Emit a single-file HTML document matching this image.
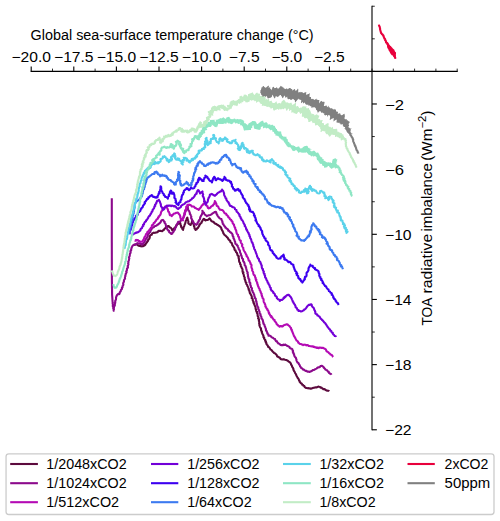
<!DOCTYPE html>
<html><head><meta charset="utf-8"><style>html,body{margin:0;padding:0;background:#fff;overflow:hidden}svg{display:block}</style></head>
<body><svg width="500" height="521" viewBox="0 0 500 521"><rect x="0" y="0" width="500" height="521" fill="#fff"/><g><path d="M134.70,244.55 L135.70,244.45 L136.68,244.55 L137.46,244.64 L137.95,245.35 L138.63,245.68 L139.36,245.90 L140.15,245.81 L140.73,246.28 L141.36,246.39 L142.01,246.10 L142.84,246.33 L143.59,246.09 L143.89,245.10 L144.87,245.14 L145.46,244.54 L145.78,243.77 L146.17,243.05 L146.85,242.52 L147.17,241.75 L147.76,241.15 L148.20,240.45 L148.18,239.62 L148.90,239.15 L149.36,238.54 L149.66,237.87 L149.75,237.10 L149.75,236.20 L150.23,235.58 L150.80,235.04 L151.74,234.80 L151.89,233.91 L152.43,233.34 L153.00,233.08 L153.75,232.67 L154.50,232.83 L155.25,232.76 L155.84,232.54 L156.78,232.40 L157.62,232.11 L158.13,231.24 L159.00,230.81 L159.75,230.94 L160.50,230.68 L161.25,231.00 L162.13,231.18 L162.67,230.64 L163.21,230.12 L163.95,229.85 L164.20,229.05 L164.89,228.63 L165.23,227.95 L165.81,227.44 L166.13,226.54 L167.05,226.79 L167.73,226.13 L168.74,226.01 L169.07,226.82 L169.61,227.35 L170.43,227.51 L171.05,227.97 L171.56,228.72 L171.94,229.53 L172.25,230.46 L172.66,229.76 L173.24,229.26 L173.97,228.98 L174.20,228.25 L174.89,227.81 L175.39,227.25 L175.75,226.63 L176.19,225.79 L176.72,225.03 L177.37,224.36 L177.79,223.67 L178.69,223.62 L179.13,222.96 L179.92,222.56 L180.38,223.30 L180.43,224.19 L180.65,225.02 L181.07,225.77 L181.06,226.69 L181.49,227.45 L182.16,228.12 L182.38,229.01 L183.07,229.90 L183.11,229.00 L183.47,228.23 L183.41,227.29 L183.99,226.60 L184.27,225.79 L184.53,224.98 L184.81,224.18 L185.19,223.42 L185.43,222.61 L185.66,221.80 L185.71,220.93 L186.16,220.19 L186.78,219.50 L186.68,218.58 L187.31,217.71 L187.56,218.45 L187.43,219.31 L187.98,219.96 L188.17,220.72 L188.39,221.47 L188.38,222.29 L188.24,223.15 L188.81,223.79 L189.42,224.18 L190.02,224.56 L190.60,225.00 L190.87,224.19 L191.35,223.46 L191.76,222.70 L191.93,221.85 L192.05,220.98 L192.30,220.23 L192.35,221.03 L193.08,221.63 L193.25,222.40 L193.22,223.22 L193.40,223.99 L193.65,224.73 L193.92,225.47 L193.98,226.27 L194.45,226.92 L194.48,227.71 L194.61,228.46 L195.20,229.07 L195.54,230.01 L196.08,229.53 L196.75,229.23 L196.93,228.44 L197.90,228.00 L198.26,227.20 L198.83,226.52 L199.26,225.81 L199.36,224.91 L200.05,224.47 L200.24,223.64 L200.97,223.24 L201.64,222.76 L201.70,221.76 L202.27,221.10 L202.60,220.28 L203.14,219.60 L203.91,218.83 L204.56,219.16 L204.81,220.09 L205.67,220.46 L206.39,219.98 L207.24,219.97 L208.08,219.71 L208.61,219.21 L209.17,218.76 L209.70,218.45 L210.17,219.22 L210.75,219.93 L211.04,220.72 L211.76,221.28 L212.56,221.68 L213.52,221.84 L213.95,222.51 L214.44,223.11 L215.04,223.56 L215.74,223.89 L216.58,224.01 L217.03,224.66 L217.77,224.92 L218.34,225.32 L219.08,225.85 L219.81,226.37 L220.43,226.87 L220.82,227.54 L221.34,228.14 L221.37,228.95 L221.80,229.60 L222.10,230.30 L222.55,230.93 L222.80,231.70 L223.22,232.39 L223.34,233.23 L223.85,233.87 L224.22,234.57 L224.81,235.04 L225.41,235.49 L225.92,236.06 L226.48,236.50 L226.92,237.13 L227.61,237.56 L227.88,238.33 L228.27,239.00 L228.71,239.59 L229.35,240.21 L230.21,240.67 L230.24,241.69 L230.72,242.41 L231.70,242.85 L231.85,243.63 L232.20,244.32 L232.28,245.13 L232.70,245.78 L233.25,246.36 L233.65,247.02 L234.00,247.68 L234.46,248.36 L234.46,249.30 L234.79,250.06 L235.64,250.50 L235.74,251.39 L236.02,252.14 L236.84,252.60 L236.95,253.42 L237.39,254.08 L237.40,254.95 L237.82,255.62 L238.73,256.13 L238.76,256.94 L238.47,257.80 L238.82,258.54 L239.01,259.31 L238.97,260.13 L239.15,260.90 L239.18,261.71 L239.76,262.40 L240.09,263.08 L239.99,264.03 L240.71,264.64 L240.69,265.55 L240.81,266.40 L241.42,267.06 L241.60,267.89 L242.19,268.56 L242.51,269.33 L242.53,270.22 L242.53,271.02 L242.61,271.80 L243.44,272.41 L243.01,273.32 L243.47,274.01 L243.75,274.75 L243.89,275.52 L243.95,276.32 L244.36,277.05 L244.76,277.80 L244.54,278.74 L244.91,279.50 L245.24,280.26 L245.43,281.07 L245.51,281.92 L246.31,282.52 L246.20,283.46 L246.51,284.24 L247.14,284.89 L247.31,285.73 L247.68,286.48 L248.17,287.19 L248.32,288.03 L248.81,288.73 L248.62,289.70 L249.39,290.30 L249.37,291.17 L249.69,291.93 L249.71,292.79 L250.11,293.52 L250.67,294.19 L250.94,294.96 L251.44,295.65 L251.71,296.42 L251.82,297.25 L251.68,298.18 L252.56,298.73 L252.75,299.53 L252.73,300.41 L253.19,301.12 L253.59,301.84 L253.37,302.80 L254.24,303.35 L254.16,304.25 L254.55,304.98 L254.86,305.73 L255.21,306.46 L255.49,307.22 L255.58,308.03 L255.61,308.87 L256.05,309.57 L256.10,310.41 L256.28,311.19 L257.01,311.80 L256.79,312.72 L257.24,313.41 L257.54,314.21 L257.67,315.05 L257.60,315.94 L258.12,316.68 L258.51,317.46 L258.11,318.42 L258.87,319.12 L259.07,319.95 L258.77,320.78 L259.18,321.48 L259.32,322.23 L259.20,323.02 L259.15,323.80 L259.66,324.48 L259.39,325.30 L259.72,326.03 L260.00,326.82 L260.31,327.61 L260.92,328.29 L261.09,329.12 L261.02,330.04 L261.27,330.84 L261.93,331.51 L261.84,332.43 L262.22,333.19 L262.45,333.97 L262.87,334.67 L263.28,335.38 L263.49,336.16 L263.40,337.07 L264.20,337.62 L264.06,338.54 L264.58,339.21 L265.21,339.85 L265.09,340.83 L265.94,341.38 L265.76,342.38 L266.42,343.01 L266.39,343.95 L266.87,344.69 L267.58,345.24 L267.93,346.05 L268.22,346.90 L269.19,347.27 L269.67,347.98 L270.10,348.70 L270.44,349.56 L271.33,349.87 L271.93,350.47 L272.34,351.26 L272.96,351.84 L273.64,352.36 L274.17,353.03 L275.03,353.37 L275.64,353.96 L276.23,354.57 L276.82,355.18 L277.08,356.15 L277.59,356.76 L278.57,356.80 L279.05,357.44 L279.82,357.74 L280.23,358.46 L280.78,359.11 L281.51,359.21 L282.19,359.52 L282.95,359.40 L283.73,359.17 L284.43,359.52 L285.13,359.81 L285.88,359.97 L286.66,360.01 L287.25,360.64 L288.01,360.79 L288.50,361.50 L289.27,361.93 L290.01,362.39 L290.55,363.13 L290.94,363.82 L291.09,364.62 L291.62,365.25 L292.00,365.94 L292.05,366.79 L292.62,367.38 L293.01,368.05 L293.37,368.74 L293.37,369.62 L293.68,370.33 L294.04,371.02 L294.55,371.62 L294.89,372.39 L295.19,373.18 L295.77,373.83 L296.09,374.60 L296.34,375.42 L296.77,376.14 L297.16,376.88 L297.51,377.65 L297.96,378.31 L298.55,378.90 L298.88,379.63 L299.03,380.46 L299.58,381.07 L299.69,381.92 L300.36,382.44 L300.76,383.13 L301.58,383.40 L302.03,384.03 L302.30,384.85 L303.18,385.06 L303.50,385.83 L304.34,386.08 L304.60,386.91 L305.21,387.37 L305.93,387.87 L306.74,388.02 L307.55,388.19 L308.43,388.09 L309.17,388.51 L310.06,388.37 L310.80,388.79 L311.48,388.49 L312.19,388.31 L312.85,387.95 L313.54,387.68 L314.30,387.65 L315.02,387.51 L315.85,387.30 L316.73,387.43 L317.53,387.02 L318.32,386.60 L319.16,386.79 L319.96,386.94 L320.46,387.67 L321.42,387.52 L322.01,388.07 L322.65,388.56 L323.27,389.10 L324.13,389.13 L324.91,389.35 L325.54,389.92 L326.27,390.23 L326.97,390.63 L327.76,390.82 L328.66,390.75 L329.30,391.30" fill="none" stroke="#5c0a3d" stroke-width="2.1" stroke-linejoin="round" stroke-linecap="butt"/><path d="M111.80,198.30 L111.80,199.10 L111.80,199.90 L111.80,200.71 L111.80,201.51 L111.80,202.31 L111.80,203.11 L111.80,203.91 L111.80,204.72 L111.80,205.52 L111.80,206.32 L111.80,207.12 L111.80,207.92 L111.80,208.73 L111.80,209.53 L111.80,210.33 L111.80,211.13 L111.80,211.93 L111.80,212.73 L111.80,213.54 L111.80,214.34 L111.80,215.14 L111.80,215.94 L111.80,216.74 L111.80,217.55 L111.80,218.35 L111.80,219.15 L111.80,219.95 L111.80,220.75 L111.80,221.56 L111.80,222.36 L111.80,223.16 L111.80,223.96 L111.80,224.76 L111.80,225.57 L111.80,226.37 L111.80,227.17 L111.80,227.97 L111.80,228.77 L111.80,229.57 L111.80,230.38 L111.80,231.18 L111.80,231.98 L111.80,232.78 L111.80,233.58 L111.80,234.39 L111.80,235.19 L111.80,235.99 L111.80,236.79 L111.80,237.59 L111.80,238.40 L111.80,239.20 L111.80,240.00 L111.80,240.80 L111.80,241.60 L111.81,242.40 L111.81,243.20 L111.81,244.00 L111.81,244.80 L111.81,245.60 L111.82,246.40 L111.82,247.20 L111.82,248.00 L111.82,248.80 L111.82,249.60 L111.83,250.40 L111.83,251.20 L111.83,252.00 L111.83,252.80 L111.83,253.60 L111.84,254.40 L111.84,255.20 L111.84,256.00 L111.84,256.80 L111.84,257.60 L111.85,258.40 L111.85,259.20 L111.85,260.00 L111.85,260.80 L111.85,261.60 L111.86,262.40 L111.86,263.20 L111.86,264.00 L111.86,264.80 L111.86,265.60 L111.87,266.40 L111.87,267.20 L111.87,268.00 L111.87,268.80 L111.87,269.60 L111.88,270.40 L111.88,271.20 L111.88,272.00 L111.88,272.80 L111.88,273.60 L111.89,274.40 L111.89,275.20 L111.89,276.00 L111.89,276.80 L111.89,277.60 L111.90,278.40 L111.90,279.20 L111.90,280.00 L111.91,280.81 L111.92,281.62 L111.93,282.43 L111.94,283.24 L111.96,284.06 L111.97,284.87 L111.98,285.68 L111.99,286.49 L112.00,287.30 L112.01,288.11 L112.02,288.92 L112.03,289.73 L112.04,290.54 L112.06,291.36 L112.07,292.17 L112.08,292.98 L112.09,293.79 L112.10,294.60 L112.15,295.37 L112.20,296.13 L112.25,296.90 L112.30,297.67 L112.35,298.43 L112.40,299.20 L112.45,299.97 L112.50,300.73 L112.55,301.50 L112.62,302.27 L112.73,303.03 L112.60,303.81 L113.01,304.54 L112.90,305.33 L112.72,306.14 L113.39,306.83 L113.16,307.64 L113.22,308.41 L113.72,309.13 L113.58,309.92 L113.74,310.72 L113.70,309.93 L114.02,309.19 L113.76,308.36 L113.95,307.60 L114.00,306.82 L114.40,306.10 L114.86,305.35 L114.80,304.49 L115.10,303.71 L115.00,302.84 L115.42,302.09 L115.15,301.18 L115.45,300.40 L115.88,299.65 L116.08,298.84 L116.05,297.98 L116.07,297.22 L116.43,296.59 L116.63,295.89 L116.92,295.23 L117.37,294.80 L118.08,294.10 L119.23,294.14 L119.68,293.42 L119.64,292.39 L120.28,291.78 L120.79,291.10 L120.83,290.17 L121.43,289.48 L122.08,288.81 L121.91,287.79 L122.57,287.12 L122.46,286.24 L122.98,285.54 L123.40,284.81 L123.15,283.90 L123.23,283.07 L123.49,282.30 L124.01,281.59 L123.87,280.72 L124.11,279.95 L124.58,279.24 L125.05,278.54 L124.90,277.68 L125.08,276.89 L125.43,276.16 L125.25,275.29 L125.77,274.59 L125.68,273.74 L126.17,273.05 L126.61,272.35 L126.20,271.42 L126.74,270.74 L126.97,269.99 L126.86,269.14 L127.14,268.39 L127.84,267.75 L128.04,266.96 L127.58,266.01 L128.13,265.24 L128.44,264.42 L128.09,263.50 L128.49,262.70 L128.24,261.79 L128.61,260.99 L128.95,260.17 L129.03,259.31 L129.29,258.48 L128.95,257.56 L129.26,256.73 L129.75,255.96 L129.76,255.13 L129.87,254.32 L130.03,253.53 L130.63,252.85 L130.55,252.00 L130.38,251.10 L131.16,250.44 L131.11,249.52 L131.44,248.73 L131.55,247.86 L131.97,247.08 L132.37,246.36 L132.70,245.60 L133.43,245.19 L133.99,244.63 L134.79,244.89 L135.21,244.23 L136.18,244.19 L136.86,243.74 L137.40,243.10 L138.26,243.48 L139.24,243.40 L140.05,243.96 L140.78,243.98 L141.50,244.09 L142.34,244.72 L142.55,243.93 L143.04,243.39 L143.78,243.10 L144.02,242.35 L144.60,241.80 L144.70,240.96 L145.51,240.54 L145.56,239.67 L145.82,238.96 L146.73,238.58 L146.56,237.66 L147.38,237.24 L147.74,236.59 L147.83,235.80 L147.81,234.93 L148.23,234.26 L148.72,233.63 L149.23,233.01 L149.77,232.41 L150.38,231.85 L150.41,230.95 L150.76,230.12 L151.49,229.52 L151.71,228.61 L152.24,227.76 L153.14,227.55 L153.92,227.15 L154.39,226.31 L155.26,226.05 L156.07,225.72 L156.85,225.31 L157.46,224.63 L158.39,224.48 L158.82,223.66 L159.60,223.29 L160.11,222.72 L160.65,222.17 L160.92,221.40 L161.26,220.56 L161.99,220.08 L162.88,219.91 L163.59,220.47 L163.83,221.35 L164.67,221.89 L164.52,222.82 L165.18,223.43 L165.62,224.12 L165.81,224.91 L165.93,225.71 L166.16,226.46 L166.57,227.13 L167.01,227.79 L167.11,228.59 L167.26,229.38 L167.92,229.81 L168.11,230.58 L169.05,230.81 L168.94,231.83 L169.52,232.38 L170.23,232.82 L170.76,233.41 L171.32,234.02 L172.23,233.62 L172.54,232.64 L173.34,232.10 L173.73,231.32 L174.03,230.48 L174.74,229.86 L175.04,229.16 L174.94,228.29 L175.63,227.76 L175.77,226.99 L176.09,226.30 L176.49,225.64 L176.48,224.74 L177.18,224.19 L177.40,223.40 L178.08,222.84 L178.14,221.82 L179.17,221.91 L180.12,221.51 L180.63,220.86 L181.32,220.38 L181.46,219.38 L182.32,219.05 L182.89,218.45 L183.52,217.84 L183.60,216.98 L183.65,216.10 L183.99,215.33 L184.54,214.62 L184.52,213.73 L184.71,212.90 L185.17,212.17 L185.51,211.39 L185.82,210.61 L185.86,209.73 L186.69,209.25 L186.78,208.39 L187.42,207.81 L187.93,206.89 L187.54,207.82 L188.02,208.46 L188.00,209.27 L188.24,209.99 L188.58,210.68 L189.36,211.30 L189.50,212.16 L189.88,212.93 L189.82,213.87 L190.50,214.52 L190.79,215.34 L191.12,216.09 L191.37,216.86 L191.08,217.81 L191.31,218.59 L191.97,219.23 L191.98,220.08 L192.42,220.79 L192.84,221.56 L193.38,222.25 L193.67,223.10 L194.28,223.63 L195.08,224.05 L195.79,224.61 L196.42,224.89 L196.96,224.28 L197.67,223.75 L197.51,222.73 L197.96,222.06 L198.78,221.60 L198.72,220.67 L199.18,219.96 L199.91,219.36 L200.10,218.52 L200.19,217.63 L200.43,216.82 L200.91,216.11 L201.26,215.37 L201.80,214.65 L202.12,213.88 L202.19,213.05 L202.47,212.27 L202.69,211.47 L202.36,210.72 L202.70,211.45 L203.03,212.19 L203.93,212.63 L204.15,213.42 L204.51,214.06 L204.96,214.71 L205.60,215.10 L206.26,215.46 L206.86,216.23 L207.58,215.73 L208.35,215.40 L209.13,215.26 L209.99,214.98 L210.83,214.67 L211.63,214.24 L212.18,213.77 L212.68,213.22 L213.37,212.94 L214.15,212.49 L214.90,211.99 L215.77,211.81 L216.30,212.41 L216.26,213.26 L216.60,213.94 L217.23,214.50 L217.22,215.33 L217.68,215.92 L218.23,216.57 L218.75,217.25 L219.30,217.95 L219.85,218.42 L220.51,218.74 L221.39,218.93 L221.47,219.81 L221.91,220.56 L222.42,221.28 L222.37,222.21 L222.72,222.99 L222.79,223.94 L223.58,224.45 L223.77,225.37 L224.43,225.97 L225.15,226.52 L225.29,227.51 L226.11,227.89 L226.58,228.62 L227.41,228.99 L228.06,229.58 L228.13,230.64 L229.14,230.89 L229.64,231.59 L230.07,232.18 L230.79,232.37 L231.33,233.08 L231.77,233.20 L232.23,233.95 L232.64,234.71 L232.54,235.62 L233.03,236.37 L233.51,237.11 L233.38,238.05 L233.89,238.77 L234.25,239.54 L234.52,240.36 L234.78,241.17 L235.21,241.92 L235.23,242.83 L235.40,243.76 L236.03,244.21 L236.80,244.55 L236.90,245.43 L237.73,245.72 L237.94,246.51 L238.16,247.18 L238.54,247.93 L238.65,248.77 L239.02,249.52 L239.60,250.20 L239.95,250.96 L240.01,251.81 L240.12,252.65 L240.68,253.33 L240.91,254.16 L240.94,255.06 L241.50,255.76 L241.63,256.62 L241.97,257.41 L242.02,258.31 L242.91,258.88 L243.11,259.72 L243.02,260.67 L243.39,261.44 L244.06,262.10 L244.34,262.91 L244.59,263.73 L244.67,264.61 L244.74,265.41 L245.48,265.92 L245.79,266.62 L245.78,267.45 L246.25,268.08 L246.28,268.90 L246.46,269.57 L246.66,270.32 L246.96,271.04 L247.27,271.77 L247.72,272.46 L247.37,273.32 L247.80,274.02 L247.91,274.78 L247.95,275.56 L247.89,276.39 L248.37,277.08 L248.34,277.92 L248.52,278.70 L249.32,279.30 L249.35,280.12 L249.20,280.99 L249.49,281.74 L249.56,282.55 L250.30,283.17 L250.28,284.01 L250.24,284.86 L250.74,285.56 L250.89,286.37 L250.91,287.21 L251.69,287.82 L252.00,288.58 L251.70,289.52 L252.11,290.24 L252.59,290.92 L252.50,291.86 L253.16,292.50 L253.57,293.24 L253.78,294.06 L254.26,294.77 L254.33,295.64 L254.40,296.52 L254.92,297.21 L254.89,298.09 L255.74,298.69 L255.89,299.49 L256.14,300.26 L256.08,301.13 L256.57,301.83 L256.49,302.70 L256.82,303.45 L257.01,304.24 L257.07,305.07 L257.34,305.84 L257.48,306.64 L258.23,307.26 L258.31,308.09 L258.16,308.98 L258.77,309.65 L259.08,310.40 L259.18,311.22 L259.61,311.92 L259.47,312.89 L259.91,313.63 L260.57,314.30 L260.30,315.31 L260.89,316.01 L261.36,316.74 L261.43,317.63 L261.47,318.44 L262.13,319.04 L262.61,319.70 L262.75,320.48 L263.10,321.18 L263.06,322.03 L263.46,322.72 L263.37,323.59 L264.09,324.21 L264.52,324.95 L264.52,325.85 L265.05,326.55 L265.22,327.38 L265.58,328.15 L265.91,328.91 L265.92,329.76 L266.04,330.57 L266.72,331.13 L266.86,331.93 L267.37,332.56 L267.30,333.45 L267.84,334.07 L268.49,334.65 L268.43,335.66 L269.33,335.64 L270.13,335.86 L270.88,336.17 L271.36,336.99 L272.07,337.40 L272.88,337.68 L273.46,338.27 L274.06,338.84 L275.03,339.01 L275.19,339.89 L275.69,340.49 L276.06,341.20 L277.04,341.40 L277.26,342.23 L277.80,342.80 L278.39,343.48 L279.29,343.68 L279.90,344.33 L280.53,344.95 L281.38,345.10 L282.12,345.09 L282.89,345.23 L283.51,344.52 L284.33,345.05 L285.06,344.48 L285.73,344.93 L286.51,345.19 L287.07,345.87 L287.87,346.06 L288.49,346.53 L289.38,346.69 L289.63,347.60 L290.26,348.07 L290.92,348.50 L291.72,348.75 L292.36,349.34 L292.52,350.19 L293.06,350.90 L292.76,351.91 L293.40,352.58 L293.33,353.51 L294.12,354.13 L294.11,355.04 L294.38,355.86 L294.84,356.58 L295.35,357.28 L295.97,357.92 L296.07,358.81 L296.47,359.57 L296.46,360.43 L296.79,361.12 L297.14,361.80 L297.47,362.49 L298.32,362.92 L298.75,363.57 L298.92,364.32 L299.53,364.89 L299.90,365.62 L300.07,366.47 L300.74,367.01 L300.96,367.86 L301.75,368.20 L302.49,368.60 L302.92,369.47 L303.92,369.48 L304.35,370.36 L305.19,370.62 L305.86,370.94 L306.68,370.83 L307.25,371.46 L307.91,371.79 L308.77,371.57 L309.39,371.98 L310.15,371.75 L310.79,371.28 L311.58,371.11 L312.25,370.69 L312.84,370.13 L313.66,370.01 L314.39,369.72 L314.99,369.18 L315.73,368.91 L316.44,368.58 L317.09,368.14 L317.67,367.54 L318.47,367.39 L319.29,367.27 L319.97,366.89 L320.47,366.13 L321.29,366.04 L321.96,365.74 L322.58,366.32 L323.37,366.73 L323.73,367.57 L324.30,368.20 L324.98,368.72 L325.38,369.52 L326.16,369.94 L327.02,370.19 L327.48,370.88 L327.87,371.64 L328.76,371.86 L328.92,372.86 L329.64,373.27 L330.20,373.85 L331.07,374.09 L331.50,374.80" fill="none" stroke="#8c0a8c" stroke-width="2.1" stroke-linejoin="round" stroke-linecap="butt"/><path d="M134.60,240.60 L135.57,240.78 L136.14,239.80 L136.74,240.36 L137.48,239.97 L138.22,240.23 L138.54,241.19 L139.57,241.14 L140.10,241.91 L141.10,241.77 L142.07,241.78 L142.60,241.12 L142.90,240.30 L143.81,239.93 L143.79,238.98 L144.16,238.34 L144.26,237.60 L144.71,236.99 L145.07,236.35 L145.67,235.87 L145.74,234.99 L145.98,234.21 L146.50,233.62 L147.41,233.27 L147.22,232.19 L148.10,231.78 L148.46,230.98 L149.16,230.44 L149.48,229.60 L150.23,229.08 L150.50,228.35 L151.00,227.76 L151.57,227.22 L151.76,226.43 L151.86,225.60 L152.22,224.90 L153.26,224.66 L153.43,223.79 L153.70,223.01 L154.66,222.71 L154.88,221.89 L155.44,221.32 L156.11,220.74 L156.33,219.77 L156.95,219.14 L157.85,218.76 L157.95,217.76 L158.76,217.32 L158.68,216.38 L159.47,215.93 L159.86,215.26 L160.42,214.67 L160.74,213.87 L160.90,212.98 L161.09,212.11 L161.45,211.33 L162.12,210.71 L162.58,209.98 L162.76,209.06 L163.79,208.70 L164.00,207.80 L164.81,207.21 L165.55,206.24 L166.04,206.72 L166.67,207.05 L167.01,207.75 L167.42,208.44 L167.66,209.22 L168.04,209.93 L168.05,210.79 L168.29,211.57 L169.10,212.13 L169.22,212.95 L169.67,213.65 L169.62,214.60 L170.10,215.30 L171.11,215.31 L171.75,216.15 L171.99,215.39 L172.32,214.72 L173.25,214.65 L173.56,213.88 L174.31,213.45 L175.18,213.35 L175.95,212.89 L176.93,212.78 L177.93,212.57 L178.39,213.16 L178.71,213.84 L179.36,214.34 L179.79,215.05 L180.08,215.82 L180.35,216.59 L180.32,217.47 L180.72,218.19 L180.76,219.20 L181.46,219.40 L181.94,219.94 L182.96,220.33 L182.53,219.34 L182.75,218.59 L183.10,217.88 L183.54,217.20 L183.94,216.50 L184.33,215.81 L184.28,214.97 L184.93,214.33 L184.35,213.41 L185.17,212.81 L184.85,211.95 L185.54,211.32 L185.06,210.42 L185.95,209.83 L185.96,209.05 L186.31,208.34 L186.16,207.53 L186.27,206.61 L187.23,206.14 L187.29,205.16 L187.91,204.68 L188.72,204.88 L189.40,204.60 L190.01,205.03 L190.77,205.28 L191.38,205.71 L191.78,206.46 L192.61,206.56 L193.47,206.51 L194.23,206.96 L194.69,207.59 L195.30,208.04 L196.01,208.33 L196.64,208.72 L197.45,209.10 L198.30,209.40 L198.79,209.88 L199.41,209.23 L199.63,208.34 L200.50,207.84 L200.92,207.12 L201.46,206.46 L201.73,205.53 L202.52,205.12 L203.15,204.57 L203.37,203.68 L204.42,203.29 L204.73,202.46 L205.00,201.60 L205.15,202.36 L205.82,202.91 L206.10,203.61 L206.18,204.41 L206.32,205.18 L206.71,205.87 L207.57,206.16 L207.63,207.05 L207.89,207.80 L208.69,208.37 L209.55,208.11 L210.37,207.74 L210.84,206.84 L211.48,206.28 L212.23,205.83 L213.07,205.47 L213.31,204.55 L214.08,204.04 L214.37,203.29 L214.49,202.45 L214.93,201.76 L214.85,201.12 L215.23,201.79 L215.83,202.39 L215.66,203.25 L216.39,203.80 L216.48,204.54 L216.56,205.42 L217.08,205.97 L217.87,206.31 L218.33,206.90 L218.58,207.65 L218.88,208.36 L219.43,208.89 L219.92,209.74 L220.76,209.78 L221.54,210.05 L222.33,210.05 L222.94,210.53 L223.35,211.17 L223.76,211.80 L224.18,212.42 L224.61,213.19 L225.53,213.47 L226.24,213.96 L226.45,214.92 L227.22,215.29 L227.61,215.96 L228.28,216.41 L228.31,217.36 L229.13,217.68 L229.64,218.25 L229.85,219.10 L230.55,219.50 L231.20,219.95 L231.35,220.84 L232.16,221.17 L232.55,221.85 L232.47,222.77 L232.94,223.40 L233.32,224.09 L234.03,224.61 L233.97,225.49 L234.43,226.23 L234.55,227.09 L235.20,227.76 L235.19,228.68 L235.48,229.48 L236.08,230.17 L236.18,231.04 L236.39,231.88 L236.53,232.74 L236.89,233.52 L237.29,234.28 L238.07,234.90 L238.02,235.83 L238.27,236.67 L239.05,237.15 L239.13,237.99 L239.19,238.83 L239.51,239.55 L239.85,240.25 L240.81,240.69 L240.72,241.63 L240.83,242.50 L241.29,243.24 L241.83,243.95 L242.35,244.67 L241.99,245.72 L242.33,246.50 L242.78,247.24 L243.30,247.96 L243.25,248.89 L243.56,249.69 L243.93,250.46 L244.33,251.23 L244.83,251.94 L245.20,252.63 L245.50,253.35 L245.87,254.04 L246.09,254.81 L246.73,255.36 L246.64,256.28 L247.26,256.85 L247.74,257.48 L248.03,258.21 L248.28,258.96 L248.60,259.68 L248.70,260.50 L249.54,260.96 L249.80,261.70 L250.10,262.43 L250.53,263.08 L250.47,263.99 L251.30,264.52 L251.55,265.31 L251.36,266.21 L251.42,267.05 L251.55,267.86 L251.95,268.61 L252.33,269.37 L252.12,270.31 L252.52,271.04 L253.02,271.74 L253.25,272.53 L253.27,273.41 L253.53,274.20 L253.88,274.95 L254.78,275.50 L254.93,276.35 L255.17,277.17 L255.65,277.91 L255.50,278.87 L256.33,279.48 L256.01,280.51 L256.54,281.22 L256.81,282.03 L257.26,282.78 L257.17,283.72 L257.74,284.42 L257.80,285.31 L258.08,286.12 L258.56,286.85 L258.64,287.74 L259.31,288.40 L259.70,289.16 L259.64,290.10 L260.18,290.81 L260.64,291.55 L260.67,292.45 L261.12,293.19 L261.68,293.90 L261.45,294.89 L262.00,295.60 L261.95,296.53 L262.57,297.21 L262.57,298.10 L263.29,298.73 L263.58,299.49 L263.58,300.34 L263.63,301.17 L263.82,301.96 L264.19,302.70 L264.82,303.36 L264.85,304.20 L265.33,304.83 L265.44,305.65 L265.38,306.56 L266.16,307.05 L266.26,307.87 L266.66,308.54 L267.36,309.07 L267.32,309.97 L268.10,310.45 L268.38,311.19 L268.44,312.03 L269.12,312.57 L268.89,313.61 L269.72,314.07 L270.05,314.86 L270.29,315.71 L271.33,316.03 L271.20,317.12 L272.26,317.33 L272.57,318.26 L273.16,318.89 L273.61,319.68 L274.60,319.95 L274.53,320.86 L275.09,321.45 L275.57,322.09 L276.14,322.68 L276.44,323.41 L276.67,324.12 L277.28,324.58 L277.86,325.08 L278.25,325.83 L279.06,326.04 L279.62,326.70 L280.26,326.12 L280.99,326.08 L281.79,326.41 L282.53,326.43 L283.13,325.87 L283.75,325.31 L284.54,325.09 L285.31,324.82 L286.03,324.46 L286.77,324.24 L287.63,324.51 L288.24,325.20 L288.93,325.75 L289.60,326.10 L289.99,326.81 L290.46,327.47 L291.05,328.07 L291.00,329.00 L291.76,329.54 L291.63,330.50 L292.24,331.19 L292.40,332.04 L292.80,332.80 L292.98,333.64 L293.51,334.34 L293.69,335.11 L293.92,335.86 L294.53,336.41 L294.70,337.18 L295.15,337.81 L295.48,338.50 L295.87,339.14 L296.29,339.91 L296.70,340.67 L297.56,341.09 L298.09,341.76 L298.18,342.77 L299.02,342.99 L299.51,343.80 L300.22,344.05 L301.08,343.93 L301.66,344.52 L302.42,344.50 L303.16,345.10 L304.03,344.66 L304.84,344.69 L305.65,344.73 L306.38,345.37 L307.23,345.07 L308.04,345.26 L308.71,345.97 L309.55,345.98 L310.35,346.18 L311.19,346.26 L311.97,346.51 L312.89,346.22 L313.54,347.04 L314.47,346.89 L315.21,347.51 L316.14,347.39 L316.88,348.00 L317.77,347.50 L318.63,348.23 L319.38,347.46 L320.20,347.74 L321.00,347.66 L321.83,348.00 L322.61,347.73 L323.13,347.77 L323.77,348.33 L324.64,348.66 L325.40,349.10 L326.00,349.70 L326.28,350.62 L326.74,351.36 L327.51,351.80 L328.24,352.13 L328.67,352.80 L329.19,353.35 L329.97,353.64 L330.29,354.41 L331.12,354.64 L331.78,355.06 L332.32,355.60 L332.65,356.37 L333.20,356.90" fill="none" stroke="#b40ab4" stroke-width="2.1" stroke-linejoin="round" stroke-linecap="butt"/><path d="M132.30,235.00 L132.70,234.40 L133.45,234.21 L133.91,233.46 L134.75,233.46 L135.38,232.99 L136.00,232.62 L136.73,232.84 L137.23,232.37 L138.04,232.32 L138.58,231.73 L139.12,231.53 L139.75,231.01 L140.42,230.52 L140.34,229.56 L140.81,228.95 L141.49,228.45 L142.11,227.90 L142.25,227.07 L142.53,226.32 L143.33,225.87 L143.09,224.81 L144.04,224.52 L144.06,223.64 L144.36,222.95 L144.74,222.30 L145.27,221.75 L146.00,221.35 L146.06,220.42 L146.79,219.97 L147.29,219.37 L147.58,218.61 L148.16,218.06 L148.30,217.21 L148.70,216.58 L149.20,216.01 L149.92,215.58 L150.15,214.84 L150.47,214.15 L151.06,213.63 L151.31,212.90 L151.54,212.16 L152.24,211.65 L152.51,210.93 L152.53,210.08 L153.11,209.51 L153.42,208.81 L154.05,208.15 L154.33,207.32 L154.39,206.39 L155.27,205.85 L155.03,204.76 L155.64,204.11 L156.28,203.48 L156.25,202.49 L156.89,201.86 L157.06,200.82 L157.92,200.73 L158.51,200.33 L158.85,199.73 L159.03,200.63 L159.83,201.23 L159.95,202.15 L160.28,202.92 L160.54,203.72 L160.88,204.49 L160.84,205.38 L161.01,206.21 L161.62,206.89 L161.83,207.66 L162.61,208.14 L162.51,209.07 L163.08,209.78 L163.91,209.35 L164.45,208.62 L164.78,207.68 L165.50,207.10 L166.33,206.63 L166.90,205.52 L167.83,205.87 L168.77,205.63 L169.70,205.59 L170.42,205.55 L171.15,206.11 L171.88,205.60 L172.64,205.70 L173.34,205.96 L173.99,206.49 L174.84,206.02 L175.53,206.47 L176.05,207.03 L176.46,207.73 L177.07,208.19 L177.63,208.72 L178.27,208.87 L178.91,208.39 L179.44,207.80 L180.30,207.54 L180.90,207.02 L181.03,205.98 L181.74,205.47 L182.47,204.98 L183.17,204.45 L183.99,204.09 L184.74,203.63 L185.29,202.90 L185.86,202.21 L186.77,201.94 L187.45,201.56 L188.22,201.35 L189.06,201.27 L189.69,200.72 L190.31,200.08 L191.06,199.63 L191.78,199.14 L192.11,198.29 L193.18,197.99 L193.63,197.23 L194.21,196.58 L194.67,195.87 L194.96,195.11 L195.49,194.59 L195.85,193.90 L196.70,193.64 L196.55,192.77 L196.84,192.07 L197.22,191.41 L197.47,190.70 L198.11,190.03 L198.73,190.62 L199.18,191.29 L199.50,192.06 L199.95,192.74 L200.02,193.52 L200.36,192.81 L201.36,192.76 L201.74,192.09 L202.47,191.44 L202.56,192.21 L202.64,192.98 L202.79,193.74 L203.14,194.45 L202.73,195.33 L202.78,196.11 L203.36,196.77 L203.50,197.53 L203.98,198.22 L204.13,198.97 L204.10,199.77 L204.32,200.51 L204.06,201.40 L204.83,201.90 L205.21,202.56 L204.81,203.53 L205.40,204.11 L205.45,204.67 L206.08,204.12 L206.06,203.23 L206.77,202.71 L207.44,202.17 L207.71,201.43 L207.95,200.66 L207.92,199.73 L208.30,198.96 L208.45,198.11 L209.20,197.48 L209.32,196.61 L209.81,195.88 L209.82,194.89 L210.48,194.35 L211.44,194.27 L211.77,193.91 L212.53,194.35 L213.25,194.85 L213.95,195.38 L214.92,195.85 L215.37,195.00 L216.21,194.66 L216.83,194.03 L217.37,193.30 L218.07,192.77 L218.89,192.41 L219.58,191.87 L220.51,191.61 L221.18,191.23 L221.42,190.42 L222.22,190.17 L222.13,189.52 L222.39,190.22 L223.07,190.77 L223.41,191.43 L223.64,192.13 L223.90,192.82 L224.12,193.51 L224.11,194.34 L224.21,195.13 L224.55,195.81 L225.12,196.39 L225.29,197.15 L225.48,197.89 L226.28,198.33 L226.31,199.27 L226.56,200.07 L227.07,200.72 L227.51,201.40 L228.12,201.99 L228.74,202.57 L228.74,203.52 L229.47,204.03 L229.57,204.92 L230.02,205.83 L230.94,205.80 L231.64,206.18 L232.13,206.94 L232.88,207.13 L233.74,207.30 L234.32,207.78 L234.87,208.29 L235.02,209.24 L235.59,209.63 L236.47,210.01 L236.45,210.98 L236.78,211.71 L237.43,212.24 L238.07,212.77 L238.37,213.52 L239.07,214.05 L239.57,214.70 L239.34,215.79 L239.98,216.36 L240.48,217.01 L240.54,217.86 L241.25,218.38 L241.28,219.23 L241.67,219.92 L242.46,220.40 L242.78,221.11 L243.10,221.83 L243.49,222.51 L243.59,223.33 L244.17,223.91 L244.41,224.67 L244.96,225.27 L244.76,226.25 L245.50,226.75 L245.78,227.49 L246.04,228.23 L246.16,229.04 L246.86,229.57 L246.79,230.43 L247.40,231.00 L247.68,231.71 L247.98,232.41 L248.65,232.95 L248.64,233.78 L249.13,234.40 L249.56,235.04 L249.28,235.99 L250.04,236.50 L250.12,237.29 L250.23,238.07 L250.66,238.72 L251.13,239.35 L251.29,240.21 L251.56,241.02 L251.69,241.88 L252.50,242.49 L252.45,243.42 L252.99,244.13 L253.27,244.94 L253.20,245.88 L253.69,246.60 L253.95,247.42 L254.11,248.27 L254.29,249.12 L254.94,249.78 L255.12,250.63 L255.50,251.40 L255.79,252.20 L255.96,253.05 L256.44,253.79 L256.68,254.61 L257.02,255.39 L256.98,256.36 L257.51,256.97 L257.73,257.73 L258.03,258.46 L258.87,258.91 L259.01,259.72 L259.07,260.52 L259.45,261.30 L260.27,261.90 L260.58,262.69 L260.64,263.58 L261.22,264.28 L261.39,265.13 L261.82,265.88 L261.67,266.85 L261.89,267.68 L262.10,268.51 L262.96,269.10 L262.84,270.06 L263.18,270.85 L263.87,271.51 L263.56,272.44 L263.76,273.21 L264.58,273.76 L264.28,274.70 L264.95,275.30 L265.14,276.07 L265.01,276.94 L265.38,277.65 L266.15,278.22 L266.20,279.04 L266.39,279.81 L266.87,280.44 L267.32,281.09 L267.58,281.84 L267.64,282.68 L268.49,283.13 L268.46,284.02 L268.89,284.68 L269.54,285.23 L269.67,286.04 L269.81,286.84 L270.24,287.50 L270.91,288.04 L270.60,289.07 L271.09,289.70 L271.31,290.47 L272.25,290.80 L272.61,291.47 L273.22,291.94 L273.23,292.89 L274.01,293.22 L274.56,293.73 L274.85,294.47 L274.99,295.38 L275.52,296.04 L276.36,296.49 L276.90,297.14 L276.85,298.19 L277.56,298.74 L278.01,299.34 L278.88,299.52 L279.43,300.02 L279.77,300.93 L280.37,300.40 L280.95,299.79 L281.96,300.06 L282.58,299.48 L283.23,299.01 L283.38,298.04 L284.38,297.92 L284.49,296.91 L285.47,296.83 L285.98,296.05 L286.62,295.45 L287.43,295.06 L287.86,294.74 L288.76,294.89 L289.36,295.34 L289.66,296.09 L290.38,296.50 L290.86,297.15 L291.20,297.87 L291.67,298.53 L291.94,299.29 L292.25,300.03 L292.64,300.73 L292.66,301.59 L293.35,302.12 L293.55,302.90 L294.13,303.48 L294.36,304.25 L294.94,304.83 L295.13,305.61 L295.61,306.17 L295.61,307.13 L296.18,307.65 L296.87,308.09 L297.14,308.85 L297.31,309.68 L298.30,309.90 L298.45,310.95 L299.36,310.82 L300.20,311.05 L301.00,311.49 L301.85,311.33 L302.49,310.94 L303.16,310.58 L303.89,310.30 L304.15,309.44 L304.98,309.27 L305.52,308.72 L306.06,308.09 L306.51,307.38 L307.06,306.76 L307.48,306.01 L308.11,305.47 L308.79,304.77 L309.66,305.05 L310.24,304.45 L311.22,304.24 L311.79,304.90 L311.83,305.96 L312.34,306.68 L312.98,307.26 L313.57,307.83 L313.91,308.52 L314.18,309.23 L314.37,309.99 L314.91,310.59 L315.01,311.38 L315.45,312.02 L315.25,312.95 L315.63,313.77 L316.46,314.11 L317.21,314.52 L317.39,315.51 L318.34,315.73 L318.90,316.34 L319.70,316.74 L320.00,317.55 L320.47,318.21 L320.97,318.84 L321.68,319.29 L322.02,320.06 L322.85,320.42 L323.22,321.16 L323.85,321.69 L324.19,322.46 L324.93,322.89 L325.47,323.49 L325.82,324.25 L326.39,324.82 L326.70,325.62 L327.26,326.20 L327.64,326.92 L328.17,327.50 L328.60,328.15 L328.96,328.85 L329.74,329.24 L330.24,329.83 L330.29,330.77 L331.29,330.99 L331.39,331.89 L331.91,332.48 L332.78,332.74 L332.80,333.73 L333.26,334.33 L333.92,334.77 L334.36,335.40 L334.81,336.01 L335.72,336.24 L336.00,337.00" fill="none" stroke="#7200d8" stroke-width="2.1" stroke-linejoin="round" stroke-linecap="butt"/><path d="M129.38,234.19 L129.67,233.40 L129.62,232.50 L129.67,231.62 L129.69,230.74 L130.59,230.15 L130.67,229.29 L131.18,228.56 L131.04,227.64 L131.66,226.94 L131.41,225.99 L132.16,225.33 L132.32,224.50 L132.25,223.60 L132.60,222.82 L132.96,222.09 L132.93,221.11 L133.65,220.53 L134.27,219.89 L134.19,218.89 L135.07,218.39 L135.35,217.61 L135.93,217.11 L135.99,216.20 L136.26,215.45 L137.28,215.28 L137.75,214.67 L137.87,213.84 L137.99,213.01 L138.50,212.43 L139.28,212.04 L139.41,211.22 L140.39,210.93 L140.49,210.06 L140.57,209.17 L141.38,208.72 L141.54,207.88 L142.44,207.50 L142.84,206.80 L142.91,205.91 L143.44,205.29 L143.90,204.63 L144.40,204.00 L144.96,203.40 L144.57,202.23 L145.27,201.71 L145.88,201.16 L146.12,200.41 L146.80,200.02 L146.88,199.14 L147.96,199.07 L148.15,198.28 L148.36,197.40 L149.28,197.35 L149.64,196.60 L150.15,196.03 L150.91,195.77 L151.71,195.00 L152.39,195.56 L152.74,196.60 L153.56,196.96 L154.48,196.82 L155.15,197.71 L156.08,197.09 L156.66,197.62 L157.53,197.24 L157.66,196.44 L157.77,195.62 L158.21,195.00 L158.60,194.36 L158.63,193.49 L159.73,193.01 L159.12,191.91 L159.75,191.25 L160.34,190.55 L160.16,189.62 L160.89,188.87 L160.33,187.87 L161.21,187.15 L160.51,186.26 L160.87,187.09 L160.80,187.98 L161.37,188.77 L161.13,189.69 L161.33,190.63 L161.96,191.29 L162.39,192.05 L162.56,192.93 L163.20,193.58 L163.82,194.14 L163.79,195.14 L164.64,195.41 L164.95,196.13 L165.20,196.90 L166.09,197.04 L166.82,197.38 L167.39,197.93 L167.89,198.73 L167.90,197.94 L168.03,197.19 L168.45,196.53 L169.14,195.97 L168.73,195.04 L169.12,194.37 L169.85,193.76 L169.90,192.88 L169.88,191.98 L170.38,191.27 L170.72,190.49 L171.31,191.04 L171.37,191.81 L171.72,192.47 L171.54,193.34 L171.98,193.77 L172.71,193.55 L173.42,193.31 L173.19,192.60 L173.90,193.23 L173.86,194.04 L174.32,194.74 L174.42,195.52 L174.51,196.30 L174.38,197.11 L174.41,197.88 L175.20,198.49 L175.65,199.17 L175.38,200.01 L175.93,200.67 L176.13,201.41 L175.57,202.32 L176.27,202.73 L176.48,203.79 L177.36,204.17 L178.25,205.16 L178.71,204.41 L178.60,203.24 L179.23,202.62 L180.42,202.25 L180.40,201.35 L180.50,200.50 L181.13,199.83 L181.45,199.05 L181.44,198.15 L181.70,197.36 L181.65,196.44 L182.18,195.74 L182.27,194.86 L183.02,194.35 L183.30,193.64 L183.17,192.76 L183.92,192.25 L183.73,191.34 L184.04,190.64 L184.80,190.20 L185.20,189.55 L186.03,189.33 L186.37,188.62 L186.66,188.14 L187.59,188.26 L187.61,189.29 L188.67,189.28 L188.99,190.17 L189.75,189.65 L190.28,188.94 L190.79,188.24 L191.03,187.26 L191.59,187.93 L192.24,188.48 L192.81,188.48 L193.98,188.27 L194.48,187.55 L194.63,186.56 L195.44,186.04 L195.55,185.17 L195.81,184.39 L196.58,183.91 L196.42,182.88 L197.46,182.55 L198.02,181.94 L197.80,180.92 L198.69,180.46 L198.17,179.45 L199.17,179.03 L198.92,178.12 L199.03,177.78 L199.98,178.16 L200.11,179.15 L201.35,179.32 L201.63,179.91 L202.10,180.83 L202.86,180.90 L203.63,181.01 L203.46,180.04 L203.89,179.29 L204.38,178.55 L204.38,177.64 L205.56,177.17 L205.65,176.29 L205.34,175.67 L206.06,176.22 L206.88,176.71 L207.61,177.25 L207.61,178.34 L208.63,178.67 L208.81,179.63 L209.40,180.28 L209.90,181.00 L210.84,181.11 L211.54,181.58 L212.02,182.41 L211.86,181.44 L212.62,180.81 L212.57,179.88 L213.00,179.12 L213.17,178.28 L213.86,177.62 L214.20,176.74 L214.76,177.36 L215.18,178.06 L215.31,178.93 L215.43,179.81 L216.14,180.24 L216.49,179.54 L217.12,179.12 L217.59,178.54 L218.26,178.26 L218.84,178.90 L219.66,179.19 L220.57,179.34 L221.20,179.92 L221.87,180.43 L222.45,180.97 L222.76,180.25 L223.64,179.82 L223.60,178.92 L224.04,178.27 L224.44,177.60 L224.48,176.87 L224.76,177.66 L225.55,178.13 L225.72,178.99 L225.87,179.84 L226.81,179.98 L227.36,180.65 L228.14,180.66 L229.00,180.61 L229.65,180.93 L229.95,181.90 L231.07,181.88 L230.73,182.80 L231.55,183.35 L231.53,184.16 L232.08,184.79 L231.83,185.68 L231.86,186.56 L232.79,186.95 L232.98,187.84 L233.15,188.73 L234.14,189.09 L234.46,189.88 L235.00,190.80 L235.76,190.58 L236.15,189.60 L237.07,189.69 L237.93,188.90 L238.63,189.41 L238.81,190.64 L240.07,190.42 L240.11,191.47 L240.57,192.10 L240.94,192.77 L241.19,193.49 L241.56,194.16 L242.20,194.72 L242.35,195.48 L242.86,196.05 L242.69,197.08 L243.16,197.74 L243.55,198.44 L244.45,198.86 L244.52,199.75 L245.21,200.28 L245.17,201.27 L245.73,201.95 L246.05,202.80 L246.81,203.32 L247.33,203.97 L247.52,204.71 L248.44,205.17 L248.25,206.06 L249.05,206.57 L249.02,207.40 L249.54,208.02 L249.04,209.03 L250.18,209.41 L249.63,210.44 L250.11,211.40 L251.03,211.28 L251.56,211.97 L252.80,211.79 L253.07,212.50 L253.53,213.11 L253.83,213.80 L254.24,214.44 L253.86,215.49 L254.89,215.87 L254.65,216.74 L255.18,217.36 L255.55,218.04 L255.51,218.84 L255.97,219.48 L255.47,220.51 L256.35,220.98 L256.52,221.81 L256.89,222.53 L257.19,223.29 L257.67,223.96 L258.18,224.56 L258.75,225.06 L258.63,226.11 L259.64,226.26 L259.91,227.00 L260.09,227.81 L260.73,228.22 L260.64,229.13 L261.03,229.87 L261.57,230.57 L262.21,231.23 L262.02,232.17 L262.40,232.92 L262.29,233.83 L262.87,234.52 L263.13,235.30 L263.43,236.05 L264.13,236.59 L264.20,237.47 L264.55,238.20 L265.60,238.53 L265.34,239.62 L265.80,240.29 L266.24,240.98 L267.10,241.42 L267.59,242.07 L268.14,242.77 L268.22,243.65 L268.07,244.62 L268.83,245.25 L269.46,245.93 L269.48,246.83 L269.99,247.55 L269.80,248.57 L270.21,249.36 L270.61,250.16 L271.80,250.35 L272.09,251.23 L272.76,251.65 L272.61,252.72 L273.14,253.26 L273.85,253.65 L273.98,254.50 L274.78,254.81 L275.05,255.56 L275.74,255.96 L276.31,256.47 L276.28,257.44 L276.87,257.93 L277.60,258.39 L278.53,258.67 L279.47,258.45 L280.63,258.49 L280.53,257.45 L281.05,256.90 L281.49,256.31 L282.35,256.03 L282.90,255.52 L283.53,254.69 L283.43,255.50 L284.03,256.08 L283.72,256.96 L283.87,257.69 L284.76,258.17 L284.31,259.38 L285.20,259.66 L286.23,259.75 L286.79,260.46 L287.55,260.79 L288.00,261.65 L288.61,262.17 L289.65,261.86 L290.39,262.25 L290.77,263.10 L291.28,263.78 L292.00,264.19 L292.84,264.48 L293.47,265.07 L293.32,265.99 L293.77,266.65 L293.77,267.51 L294.29,268.14 L294.45,268.93 L294.55,269.74 L295.17,270.33 L295.22,271.16 L296.12,271.67 L296.68,272.32 L296.18,273.41 L297.28,273.84 L296.70,274.97 L297.51,275.52 L298.18,276.12 L298.30,276.96 L298.24,277.96 L299.01,278.24 L299.36,278.94 L300.26,279.09 L300.22,280.09 L301.05,280.48 L301.13,281.39 L302.14,281.65 L302.42,282.61 L302.84,281.85 L303.36,281.17 L303.56,280.42 L304.33,279.88 L304.91,279.27 L304.53,278.26 L305.15,277.67 L305.05,276.77 L306.26,276.42 L306.54,275.66 L306.53,274.82 L306.61,274.02 L306.48,273.14 L306.79,272.42 L307.61,271.88 L307.95,271.17 L308.40,270.50 L308.53,269.74 L308.44,268.88 L308.58,268.10 L309.14,267.52 L309.26,266.74 L309.74,266.12 L310.35,265.55 L310.33,264.66 L310.73,265.57 L311.58,265.82 L312.72,265.78 L312.79,266.83 L313.41,267.33 L313.99,267.87 L314.99,267.99 L314.94,269.18 L315.76,269.42 L316.29,269.97 L317.10,270.22 L317.76,270.64 L318.45,271.33 L318.55,272.12 L318.74,272.87 L319.16,273.54 L319.52,274.23 L319.18,275.19 L319.48,275.91 L319.59,276.69 L320.49,277.18 L320.30,278.10 L320.76,278.72 L321.55,279.17 L321.20,280.20 L322.01,280.65 L322.50,281.25 L322.85,281.92 L322.53,282.94 L323.50,283.30 L323.69,284.02 L324.09,284.74 L324.76,285.23 L325.06,286.04 L326.01,286.28 L326.28,287.12 L326.69,287.83 L327.18,288.46 L327.72,289.07 L328.48,289.45 L328.69,290.29 L328.94,291.10 L329.81,291.39 L330.19,292.09 L330.54,292.82 L331.52,293.08 L331.89,293.79 L331.67,294.83 L332.64,295.20 L332.92,295.96 L333.36,296.64 L333.20,297.64 L333.98,298.12 L334.06,298.99 L335.08,299.31 L335.42,300.00 L335.54,300.83 L336.25,301.26 L336.40,302.08 L336.96,302.62 L337.75,302.99 L338.15,303.63 L338.32,304.44 L338.70,305.10" fill="none" stroke="#3c00f0" stroke-width="2.1" stroke-linejoin="round" stroke-linecap="butt"/><path d="M128.67,234.12 L128.94,233.40 L129.17,232.67 L129.46,231.95 L129.54,231.18 L129.85,230.46 L129.50,229.63 L129.94,228.99 L130.39,228.37 L130.40,227.62 L130.72,226.96 L130.44,226.14 L130.83,225.50 L130.87,224.76 L131.23,224.11 L131.39,223.44 L131.21,222.69 L131.47,222.05 L131.65,221.38 L132.17,220.79 L132.23,220.10 L132.02,219.35 L132.54,218.76 L132.30,218.00 L132.72,217.39 L132.58,216.66 L132.63,215.98 L133.27,215.42 L133.00,214.68 L133.13,214.02 L133.71,213.44 L133.77,212.77 L133.55,212.04 L134.07,211.44 L133.92,210.73 L134.11,210.07 L133.92,209.36 L134.46,208.75 L134.41,208.05 L134.68,207.40 L134.73,206.73 L134.48,206.00 L134.62,205.33 L134.60,204.64 L134.72,203.89 L135.08,203.21 L135.60,202.64 L136.15,202.08 L136.34,201.15 L137.21,201.09 L137.75,200.52 L138.39,200.10 L139.25,199.91 L139.51,199.23 L139.84,198.60 L140.34,198.09 L140.87,197.61 L140.97,196.81 L141.87,196.48 L141.53,195.65 L142.14,195.11 L142.40,194.46 L142.12,193.65 L142.77,193.12 L142.72,192.38 L143.05,191.75 L142.92,190.98 L143.14,190.32 L143.42,189.68 L144.06,189.15 L143.83,188.35 L144.35,187.78 L144.65,187.14 L144.85,186.48 L144.71,185.71 L144.92,185.04 L145.21,184.40 L145.57,183.74 L145.36,182.91 L145.96,182.31 L146.19,181.61 L146.44,180.91 L146.08,180.04 L146.91,179.51 L146.51,178.63 L146.93,177.90 L147.60,177.67 L148.31,177.49 L148.57,176.68 L149.38,176.76 L149.82,176.14 L150.31,175.63 L150.91,175.32 L151.38,174.91 L151.90,174.35 L152.54,173.96 L153.54,174.04 L154.39,173.92 L154.32,172.58 L154.82,171.99 L156.21,172.60 L156.36,171.63 L156.96,172.12 L157.59,172.58 L157.64,173.48 L157.88,174.32 L158.69,174.41 L159.18,174.82 L159.99,174.91 L160.14,176.37 L160.44,175.02 L161.20,175.49 L161.91,175.81 L162.40,174.68 L163.20,175.52 L164.00,175.83 L164.67,175.33 L164.96,175.94 L166.09,175.71 L166.21,176.49 L166.95,176.65 L166.71,177.79 L167.70,177.70 L168.00,178.30 L168.12,179.44 L169.00,179.60 L169.52,179.96 L170.51,179.94 L170.95,180.46 L171.17,181.17 L171.89,181.41 L172.54,181.71 L172.88,182.29 L173.66,182.42 L174.02,183.10 L174.07,184.21 L174.65,184.59 L175.77,184.56 L175.83,183.80 L175.85,183.03 L175.75,182.22 L176.23,181.60 L177.14,181.12 L177.49,180.46 L177.05,179.54 L177.85,179.03 L178.08,178.26 L178.08,177.54 L178.15,176.84 L178.39,176.16 L177.96,175.37 L178.54,174.74 L178.06,173.95 L178.46,173.30 L178.96,172.66 L178.44,171.94 L179.09,172.56 L178.28,173.39 L178.79,174.03 L178.99,174.72 L179.88,175.30 L179.23,176.11 L179.75,176.75 L179.26,177.53 L179.65,178.19 L179.26,178.96 L179.60,179.65 L179.57,180.40 L180.36,180.95 L180.13,181.75 L180.18,182.48 L180.23,183.21 L181.05,183.75 L180.56,184.62 L181.36,185.69 L181.98,185.22 L182.81,185.37 L183.50,185.11 L184.01,184.29 L184.71,184.07 L185.01,183.54 L186.14,183.54 L186.61,183.09 L186.42,182.21 L186.57,181.84 L186.89,182.44 L187.22,183.03 L188.24,183.21 L187.86,184.24 L188.45,184.67 L188.90,185.43 L189.60,185.09 L190.30,185.37 L191.36,185.34 L191.41,184.65 L191.76,184.06 L191.08,183.10 L191.49,182.54 L192.09,182.06 L192.60,181.54 L192.27,180.71 L193.11,180.31 L193.28,179.64 L192.65,178.74 L193.41,178.19 L193.25,177.41 L193.19,176.65 L193.48,175.98 L193.90,175.34 L193.89,174.59 L194.08,173.90 L194.04,173.14 L194.80,172.59 L194.86,171.86 L195.35,171.24 L195.50,170.53 L195.19,169.71 L196.27,169.24 L195.27,168.09 L196.08,167.74 L196.22,167.06 L196.69,166.54 L196.62,165.76 L197.81,165.61 L197.54,164.72 L197.46,163.84 L198.55,163.65 L198.37,162.61 L199.31,162.31 L199.49,161.52 L200.02,161.08 L200.16,161.99 L200.83,162.41 L201.76,162.57 L201.86,163.48 L202.47,163.85 L203.18,164.13 L203.85,164.45 L203.78,165.36 L204.34,165.88 L205.25,166.09 L205.96,165.80 L206.46,165.04 L207.03,164.40 L207.99,164.87 L208.27,163.44 L209.02,163.33 L209.95,163.67 L210.52,163.36 L210.66,162.44 L211.58,162.62 L211.78,162.60 L212.77,162.24 L213.44,162.61 L214.10,162.62 L214.80,162.71 L215.50,163.66 L216.18,162.83 L216.96,163.58 L217.65,163.44 L218.41,162.88 L218.44,162.03 L219.67,162.05 L219.54,161.08 L219.86,160.44 L220.17,159.79 L221.33,159.77 L221.19,158.79 L221.47,158.11 L222.14,157.82 L222.27,156.99 L223.24,157.00 L223.54,156.34 L223.93,155.66 L224.95,155.61 L224.88,155.12 L226.16,154.80 L226.13,155.79 L226.86,156.02 L226.69,157.15 L227.29,157.45 L228.36,157.58 L228.81,158.20 L229.42,158.70 L228.99,160.03 L230.27,160.08 L230.16,160.95 L230.63,161.56 L230.71,162.34 L231.07,163.00 L231.19,163.77 L232.29,164.10 L232.22,165.34 L232.71,164.49 L233.52,164.54 L234.12,164.03 L235.14,163.84 L235.27,164.62 L235.74,165.17 L236.26,165.69 L236.21,166.59 L236.79,167.07 L237.84,167.24 L237.59,167.87 L238.38,167.91 L239.28,168.29 L239.33,167.77 L240.09,168.14 L241.09,168.39 L240.51,169.53 L241.29,169.90 L241.46,170.62 L241.65,171.32 L242.09,171.88 L242.59,172.38 L243.51,172.66 L243.94,171.69 L244.64,171.42 L245.58,171.74 L246.43,170.73 L246.79,171.41 L246.67,172.46 L247.97,172.37 L247.60,173.63 L248.22,174.09 L248.98,174.45 L249.51,174.93 L249.26,175.87 L249.46,176.55 L250.73,176.58 L250.68,177.40 L250.94,178.04 L251.35,178.58 L251.90,179.04 L252.47,179.50 L252.30,180.40 L252.38,181.14 L253.60,181.16 L253.81,181.89 L253.53,182.95 L253.96,183.53 L254.51,184.03 L255.65,184.13 L255.24,185.27 L255.35,186.09 L255.72,186.65 L256.45,186.95 L257.58,186.97 L257.07,188.16 L258.16,188.19 L258.07,189.09 L258.11,189.88 L258.77,190.23 L259.79,190.27 L260.06,190.94 L259.83,192.02 L261.09,191.86 L261.03,192.80 L261.68,193.15 L262.39,193.45 L262.33,194.38 L263.43,194.45 L263.76,195.10 L263.84,195.91 L264.60,196.27 L265.02,196.86 L264.81,197.86 L265.02,198.59 L265.27,199.31 L266.51,199.25 L266.56,200.03 L267.08,200.48 L267.14,201.26 L267.66,201.71 L267.53,202.62 L268.57,202.71 L269.32,202.99 L269.08,204.15 L270.12,203.81 L270.52,204.76 L271.30,204.96 L271.74,205.81 L272.67,205.72 L273.32,206.15 L274.25,206.05 L274.79,206.77 L275.57,206.50 L276.13,207.32 L276.90,207.14 L277.70,206.76 L278.34,207.03 L279.02,207.30 L279.66,207.89 L280.45,207.19 L281.07,208.02 L281.61,207.90 L282.66,208.15 L282.29,209.18 L283.35,209.42 L283.66,210.08 L283.43,211.03 L284.12,211.31 L284.14,212.44 L285.04,212.42 L285.73,212.66 L285.89,213.61 L287.24,213.33 L286.84,214.46 L288.02,214.52 L288.30,215.18 L287.78,216.40 L288.49,216.77 L289.42,217.00 L289.99,217.57 L289.19,218.70 L289.87,219.14 L289.96,219.86 L291.11,220.08 L290.79,220.98 L291.42,221.45 L291.86,222.00 L292.02,222.68 L291.96,223.47 L292.60,223.93 L292.87,224.57 L293.49,225.04 L292.93,226.10 L293.47,226.60 L293.59,227.32 L294.36,227.71 L294.15,228.60 L294.88,229.01 L295.01,229.74 L295.27,230.43 L295.28,231.21 L295.97,231.75 L296.60,232.32 L296.92,232.99 L296.93,233.77 L297.38,234.40 L296.56,235.63 L297.44,235.84 L297.55,236.64 L298.82,236.56 L298.71,237.51 L298.66,238.43 L299.39,238.76 L300.02,239.16 L300.40,239.75 L301.23,240.00 L301.12,240.42 L301.82,240.31 L302.57,240.49 L303.27,240.39 L304.09,240.96 L304.62,239.84 L305.13,239.98 L305.62,239.42 L305.96,238.74 L306.57,238.26 L306.98,237.64 L307.71,237.27 L307.60,236.43 L309.02,236.31 L308.59,235.37 L309.60,235.06 L309.56,234.29 L309.82,233.65 L309.84,232.90 L310.73,232.54 L309.95,231.44 L310.94,231.13 L310.72,230.32 L311.44,229.77 L311.73,229.09 L311.18,228.16 L311.44,227.48 L311.41,226.71 L311.90,226.09 L311.90,225.33 L312.55,224.76 L313.53,224.29 L313.25,223.29 L313.73,223.80 L313.98,224.49 L314.60,224.90 L314.52,225.84 L314.98,226.42 L316.00,226.33 L316.39,226.88 L316.43,227.77 L316.63,228.50 L317.39,228.68 L318.09,228.96 L317.70,229.90 L319.22,229.89 L319.45,230.53 L318.85,231.57 L319.61,231.94 L320.37,232.32 L320.04,233.23 L319.86,234.14 L320.78,234.38 L321.33,234.84 L321.99,235.24 L322.36,235.81 L321.89,237.16 L322.73,237.04 L322.91,237.91 L324.12,237.23 L324.61,237.92 L325.19,238.36 L325.12,239.19 L325.88,239.53 L325.99,240.26 L326.16,240.95 L326.65,241.49 L327.24,241.97 L327.52,242.57 L326.58,243.70 L327.86,243.87 L327.70,244.67 L328.10,245.22 L328.20,245.90 L328.97,246.16 L329.10,246.89 L329.72,247.27 L329.62,248.17 L329.58,249.02 L330.33,249.30 L330.43,250.06 L331.55,250.08 L332.16,250.46 L331.95,251.43 L332.40,251.93 L332.70,252.55 L333.31,252.93 L333.41,253.68 L333.69,254.31 L333.86,255.00 L334.94,255.05 L335.17,255.71 L335.10,256.52 L336.19,256.74 L336.67,257.30 L336.78,258.06 L337.40,258.54 L336.92,259.64 L337.21,260.30 L338.18,260.58 L338.75,261.09 L339.16,261.69 L339.31,262.42 L339.86,262.92 L339.80,263.77 L339.97,264.48 L340.73,264.86 L341.30,265.34 L340.88,266.40 L342.03,266.55 L342.20,267.26 L342.45,267.93 L342.70,268.60 L342.90,269.30" fill="none" stroke="#3c7af0" stroke-width="2.1" stroke-linejoin="round" stroke-linecap="butt"/><path d="M124.44,248.97 L124.50,248.29 L124.81,247.65 L124.80,246.96 L124.88,246.28 L125.21,245.66 L125.65,245.05 L125.71,244.37 L125.82,243.70 L125.64,242.96 L125.97,242.32 L125.97,241.60 L126.06,240.90 L126.17,240.20 L126.38,239.53 L126.95,238.93 L127.04,238.23 L127.18,237.54 L127.31,236.85 L127.09,236.10 L127.29,235.43 L127.61,234.78 L127.80,234.11 L128.01,233.44 L128.16,232.76 L127.82,231.99 L128.26,231.36 L128.43,230.69 L128.47,229.98 L128.41,229.25 L128.75,228.63 L128.69,227.91 L129.34,227.37 L129.47,226.70 L129.44,225.99 L129.46,225.29 L129.98,224.72 L129.95,224.01 L130.29,223.39 L130.43,222.72 L130.40,222.01 L130.51,221.33 L130.78,220.69 L130.84,220.01 L130.85,219.30 L131.10,218.66 L131.56,218.07 L131.27,217.30 L131.44,216.63 L131.96,216.04 L131.96,215.30 L132.30,214.66 L132.45,213.96 L132.57,213.26 L133.14,212.68 L132.87,211.87 L133.18,211.22 L133.25,210.50 L133.69,209.89 L133.68,209.15 L133.92,208.48 L134.33,207.84 L134.26,207.07 L134.58,206.41 L134.96,205.76 L134.68,204.94 L134.84,204.23 L135.12,203.56 L135.61,202.94 L135.70,202.22 L135.67,201.46 L135.90,200.77 L135.98,200.10 L136.31,199.49 L136.23,198.78 L136.78,198.23 L137.06,197.61 L137.26,196.97 L137.30,196.29 L137.60,195.67 L137.22,194.88 L137.54,194.27 L138.10,193.72 L138.16,193.04 L138.10,192.32 L138.56,191.73 L138.52,191.02 L138.79,190.38 L138.63,189.64 L138.72,188.96 L139.02,188.33 L138.99,187.62 L139.28,186.98 L139.77,186.39 L139.55,185.64 L139.52,184.91 L139.75,184.24 L140.03,183.59 L140.61,183.03 L140.56,182.27 L140.72,181.58 L140.79,180.86 L141.63,180.38 L141.44,179.58 L141.52,178.89 L141.64,178.21 L141.87,177.58 L142.19,176.98 L142.87,176.52 L142.65,175.71 L142.78,175.02 L143.45,174.60 L143.47,173.90 L144.46,173.61 L143.84,172.64 L144.52,172.21 L145.04,171.73 L144.93,170.91 L145.97,171.05 L146.18,170.08 L146.58,169.36 L147.32,169.09 L147.57,168.17 L148.52,168.20 L148.94,167.51 L150.29,167.89 L150.70,167.34 L150.76,166.44 L150.64,165.36 L151.41,165.17 L151.91,164.64 L152.47,164.11 L153.10,163.66 L154.42,164.08 L154.20,162.58 L155.20,161.79 L156.00,163.37 L156.80,162.72 L157.99,163.39 L158.12,162.14 L159.12,162.65 L159.52,161.95 L160.45,161.66 L160.73,161.02 L160.68,160.19 L160.39,159.24 L160.92,158.74 L162.30,158.73 L162.68,158.16 L162.74,157.88 L162.87,156.64 L163.73,156.85 L164.44,156.78 L164.59,156.15 L164.80,156.94 L165.66,157.23 L165.93,157.97 L166.31,158.57 L167.32,158.79 L166.67,159.99 L166.98,160.62 L168.70,160.41 L168.75,162.17 L169.35,161.88 L169.73,161.13 L169.86,159.83 L171.48,160.52 L170.39,159.40 L172.05,159.19 L171.76,158.33 L170.95,157.30 L171.36,156.68 L172.38,156.25 L172.49,155.53 L172.91,155.11 L173.74,154.74 L174.28,153.44 L174.89,154.04 L173.56,155.28 L175.35,155.48 L174.12,156.69 L175.55,156.79 L175.00,158.13 L175.49,158.71 L175.81,159.41 L176.85,159.68 L177.78,159.77 L177.70,158.35 L178.35,158.58 L179.21,158.75 L178.74,159.84 L179.28,160.24 L180.08,160.45 L180.36,161.02 L181.51,161.28 L181.86,161.97 L181.33,163.12 L181.86,163.71 L182.83,164.59 L182.59,163.79 L181.98,162.88 L182.56,162.33 L183.46,161.87 L183.24,161.08 L182.56,160.15 L184.18,159.91 L184.36,159.24 L183.76,157.69 L184.62,158.27 L185.13,157.80 L185.36,158.07 L186.45,158.23 L186.93,158.75 L186.90,159.59 L186.52,160.63 L188.00,160.19 L188.58,160.62 L188.68,161.78 L189.92,162.46 L189.88,161.48 L190.24,160.86 L191.09,160.98 L191.66,160.53 L191.73,159.06 L193.03,160.05 L193.12,158.63 L193.75,158.55 L194.96,158.69 L194.97,157.63 L195.98,157.58 L195.71,156.24 L197.14,156.61 L196.68,155.34 L196.94,154.72 L197.79,154.40 L197.84,153.67 L198.47,153.23 L199.35,152.93 L199.34,152.17 L198.50,151.00 L199.49,150.48 L200.23,150.68 L200.79,150.38 L201.52,150.57 L201.98,149.98 L201.94,148.98 L202.64,148.72 L203.88,149.00 L203.74,147.90 L204.87,147.68 L205.38,147.06 L204.85,146.27 L205.06,145.60 L205.05,144.89 L204.64,144.12 L205.82,143.61 L205.14,142.79 L206.04,142.24 L205.08,141.37 L206.20,140.85 L206.17,140.14 L205.97,139.40 L205.78,138.67 L206.63,137.86 L205.67,138.76 L206.53,139.26 L206.15,140.03 L207.23,140.47 L207.46,141.11 L207.50,141.79 L206.48,142.70 L207.73,143.11 L206.60,144.05 L207.68,144.50 L207.70,145.30 L207.89,144.53 L208.71,144.39 L208.52,143.24 L209.40,143.16 L210.70,143.15 L209.78,141.94 L210.85,141.72 L210.62,140.86 L210.88,140.24 L210.73,139.42 L211.03,138.81 L212.82,138.96 L212.93,138.27 L213.20,137.60 L213.53,136.97 L214.09,136.44 L213.13,135.17 L213.86,134.85 L214.21,135.44 L214.27,136.12 L213.85,136.96 L214.35,137.50 L214.28,138.43 L215.97,138.27 L215.52,139.39 L215.85,140.04 L216.12,140.73 L216.69,141.23 L216.74,142.06 L217.93,142.19 L218.69,143.34 L218.16,142.30 L218.78,141.83 L219.58,141.44 L219.58,140.66 L219.26,139.72 L219.44,139.03 L219.91,138.49 L220.32,138.15 L220.23,139.07 L220.78,139.46 L221.89,139.39 L222.30,139.89 L222.14,140.87 L222.66,140.81 L223.20,140.34 L222.91,139.40 L223.51,138.97 L224.40,138.70 L224.97,138.26 L224.84,137.63 L225.59,137.85 L225.17,139.01 L226.03,139.14 L227.08,139.11 L227.59,139.49 L226.78,141.06 L227.19,141.57 L227.71,141.99 L228.57,142.12 L229.40,142.28 L230.13,142.52 L229.73,143.16 L230.19,142.71 L231.48,143.30 L231.94,142.85 L232.31,142.29 L232.17,140.96 L232.88,140.72 L233.56,140.44 L234.79,141.07 L235.55,139.75 L234.81,140.86 L235.27,141.42 L235.78,141.96 L235.39,142.91 L236.82,143.04 L236.67,143.87 L237.56,144.24 L237.94,144.81 L238.32,145.37 L238.13,146.20 L238.73,146.66 L239.11,147.23 L237.86,148.53 L239.29,148.62 L238.58,149.68 L239.84,150.12 L240.12,149.50 L240.22,148.82 L240.95,148.36 L241.05,147.68 L241.01,146.95 L240.97,146.22 L241.42,145.66 L241.70,145.04 L241.63,144.30 L241.78,143.64 L242.58,142.77 L241.67,143.86 L242.53,144.24 L243.47,144.59 L243.55,145.28 L242.62,146.38 L243.91,146.59 L243.93,147.30 L243.92,148.32 L244.51,148.80 L245.41,148.03 L246.18,148.40 L246.48,149.08 L247.46,149.37 L246.48,150.76 L248.19,150.65 L247.06,152.12 L248.69,152.05 L248.14,152.50 L249.45,153.09 L250.01,152.64 L249.97,151.36 L250.89,151.41 L251.39,150.88 L251.67,150.71 L252.84,150.77 L252.22,151.95 L252.31,152.69 L253.11,152.98 L253.14,153.76 L253.48,154.35 L254.52,154.28 L255.18,155.21 L255.93,155.26 L256.73,154.91 L257.58,154.13 L258.23,155.13 L258.42,155.46 L259.72,155.34 L259.68,156.28 L259.78,157.11 L260.64,157.33 L261.87,157.26 L261.48,158.48 L262.45,158.61 L262.05,159.85 L262.83,160.23 L263.71,160.10 L263.57,161.32 L264.36,161.31 L264.82,161.27 L265.90,161.54 L266.49,161.20 L267.02,160.78 L266.69,160.35 L267.49,160.45 L268.01,160.93 L268.67,161.21 L269.31,161.52 L270.60,162.43 L270.11,161.18 L270.14,160.33 L271.47,160.45 L271.58,159.66 L271.92,159.13 L272.12,159.87 L272.98,160.33 L273.34,161.00 L273.84,161.61 L273.17,163.05 L273.77,163.61 L274.64,163.62 L275.81,163.03 L275.59,164.61 L276.25,164.88 L277.12,164.95 L278.24,164.76 L277.63,166.30 L278.38,166.49 L278.90,167.00 L280.09,166.37 L280.21,167.88 L281.47,167.10 L281.82,168.17 L282.68,168.02 L282.99,168.69 L282.99,169.83 L283.50,169.80 L283.69,170.45 L284.83,170.64 L284.98,171.31 L284.93,172.08 L286.15,172.22 L285.84,173.13 L285.29,174.27 L286.02,174.65 L286.26,175.36 L287.50,175.40 L287.31,176.39 L287.57,177.09 L288.09,177.60 L288.90,177.94 L289.66,178.32 L290.25,178.79 L289.25,180.18 L289.53,180.84 L290.90,180.86 L290.50,181.90 L291.40,182.20 L291.41,183.03 L291.49,183.84 L292.67,183.92 L292.62,184.82 L293.57,185.06 L293.58,185.91 L294.70,186.03 L294.70,186.80 L295.14,187.30 L294.81,188.56 L296.27,188.03 L295.94,189.30 L297.26,188.91 L296.62,190.55 L298.16,189.95 L298.81,190.35 L299.23,191.01 L298.92,192.48 L300.03,192.70 L300.77,193.02 L301.40,192.25 L302.03,191.48 L302.60,191.90 L303.24,191.54 L304.42,191.72 L303.88,190.18 L304.47,189.77 L305.74,190.04 L305.31,188.61 L305.48,188.83 L306.85,189.20 L306.58,190.03 L306.62,190.78 L306.40,191.60 L308.03,191.89 L306.90,192.97 L307.14,193.35 L308.27,192.90 L307.26,191.88 L308.74,191.53 L307.91,190.55 L308.14,189.86 L308.04,189.08 L308.73,188.52 L308.93,187.82 L310.26,187.43 L309.79,186.55 L310.02,185.69 L309.31,186.79 L310.93,186.74 L311.16,187.37 L310.27,188.57 L310.57,189.16 L311.30,189.55 L312.17,190.82 L312.35,189.01 L313.53,190.22 L313.71,189.52 L314.18,190.04 L314.35,190.79 L315.83,190.55 L316.11,191.22 L316.46,191.56 L316.65,192.42 L317.10,192.87 L317.63,193.21 L318.05,193.30 L319.02,193.43 L319.69,193.15 L320.16,192.61 L319.94,191.15 L321.28,190.84 L321.93,191.30 L322.61,191.68 L323.04,192.57 L324.31,192.58 L323.86,193.50 L324.58,193.91 L324.81,194.54 L324.51,195.40 L324.38,196.18 L325.89,196.26 L325.89,196.98 L325.29,198.31 L326.79,197.86 L327.55,198.15 L327.87,198.88 L328.50,200.10 L328.71,199.43 L329.38,199.04 L329.05,198.05 L328.69,197.04 L329.45,196.70 L329.77,196.52 L330.61,196.72 L331.34,196.99 L331.34,197.75 L331.56,198.37 L332.08,198.98 L332.29,199.76 L333.14,200.21 L333.69,200.90 L332.66,202.00 L332.98,202.59 L333.74,203.02 L334.48,203.45 L334.41,204.18 L334.20,204.97 L333.87,205.80 L334.80,206.17 L334.24,207.18 L335.26,207.42 L336.11,207.74 L335.71,208.69 L336.04,209.28 L336.34,209.88 L336.44,210.58 L337.87,210.62 L337.51,211.57 L337.24,212.49 L338.62,212.58 L339.08,213.12 L339.17,213.86 L339.31,214.56 L339.38,215.30 L339.89,215.83 L339.68,216.71 L340.73,216.93 L340.75,217.68 L340.52,218.54 L341.03,219.04 L340.66,219.97 L341.00,220.55 L342.39,220.61 L342.57,221.27 L342.54,222.03 L342.83,222.64 L343.42,223.09 L342.92,224.09 L344.29,224.16 L344.15,224.98 L344.99,225.38 L343.97,226.52 L344.70,226.96 L344.30,227.85 L345.96,227.91 L345.27,228.93 L345.72,229.48 L346.88,229.74 L345.85,230.89 L346.01,231.56 L347.59,231.66 L346.41,232.87 L347.40,233.20" fill="none" stroke="#5ad2ea" stroke-width="2.1" stroke-linejoin="round" stroke-linecap="butt"/><path d="M196.60,138.20 L195.23,136.77 L196.10,136.70 L197.10,136.50 L197.07,137.33 L198.06,137.14 L198.79,137.21 L196.35,137.81 L196.71,137.35 L197.31,137.02 L196.97,136.14 L197.02,135.49 L197.60,135.16 L198.38,134.95 L199.21,134.77 L199.51,134.26 L199.68,133.69 L199.32,132.79 L199.65,132.31 L200.23,131.98 L201.31,131.95 L201.35,131.29 L202.14,131.08 L201.93,130.43 L202.34,129.94 L201.67,128.99 L202.18,128.55 L202.24,127.91 L202.37,127.30 L201.86,126.42 L201.79,125.73 L202.59,125.41 L203.54,125.15 L205.70,123.69 L206.34,123.78 L207.15,123.35 L207.89,123.14 L205.76,123.25 L206.81,123.77 L207.30,123.47 L207.59,122.87 L207.44,121.60 L206.79,122.00 L207.34,121.69 L208.29,121.69 L209.64,121.98 L210.05,121.58 L210.13,120.93 L209.79,119.96 L214.86,119.72 L214.61,120.56 L214.55,121.27 L214.91,121.73 L216.13,121.68 L216.11,122.37 L215.80,123.24 L215.11,124.34 L213.92,123.88 L214.26,123.35 L214.82,123.15 L215.61,123.30 L216.45,123.51 L215.75,122.73 L216.57,122.54 L215.65,121.31 L216.29,121.01 L215.28,119.73 L216.62,119.85 L217.29,119.57 L218.89,119.86 L219.94,119.26 L220.05,119.95 L220.94,119.86 L221.13,120.47 L221.76,120.64 L222.38,120.82 L221.38,121.07 L221.53,120.25 L221.87,119.73 L221.55,118.21 L222.11,118.01 L223.61,117.24 L224.58,118.41 L225.41,119.00 L226.06,118.87 L226.37,117.42 L228.98,116.84 L229.55,117.04 L229.77,117.93 L230.10,118.61 L230.57,118.99 L231.19,119.08 L230.33,119.33 L231.05,119.46 L231.65,119.18 L232.29,119.01 L233.07,119.42 L234.13,120.14 L234.81,120.11 L235.63,119.80 L236.31,119.78 L236.74,120.25 L237.12,120.84 L236.43,120.45 L236.58,119.42 L236.94,118.82 L237.86,119.32 L238.58,119.42 L239.21,119.36 L241.52,119.60 L242.46,119.69 L242.71,120.26 L243.71,120.30 L243.48,121.22 L243.57,121.91 L244.04,122.33 L243.88,123.19 L245.23,122.99 L244.84,123.42 L245.74,123.32 L246.06,123.91 L246.53,124.31 L246.96,124.53 L247.21,125.14 L247.51,125.67 L248.40,125.40 L248.92,125.64 L249.31,126.06 L246.36,126.95 L247.36,126.98 L247.05,125.91 L248.11,125.99 L247.66,124.80 L248.36,124.58 L248.44,123.83 L248.73,123.26 L249.59,122.89 L250.05,122.55 L251.14,122.84 L251.35,122.25 L251.84,121.94 L252.05,121.35 L255.79,121.16 L255.60,121.94 L256.51,122.10 L255.99,123.07 L256.33,123.55 L256.05,124.39 L256.48,124.82 L257.04,125.18 L257.18,125.77 L258.15,125.89 L258.93,126.12 L254.68,126.05 L255.05,125.61 L256.21,125.81 L256.55,125.35 L257.01,124.99 L256.69,124.01 L257.64,124.04 L258.11,123.69 L258.63,123.37 L260.68,121.50 L261.32,121.30 L262.03,120.68 L262.62,120.73 L263.19,120.82 L263.52,122.14 L264.01,122.70 L265.13,122.74 L265.97,122.44 L266.81,122.16 L267.07,123.09 L267.65,123.33 L267.72,124.67 L268.50,124.50 L268.47,125.25 L269.23,124.40 L269.58,125.65 L270.22,125.43 L270.85,125.22 L271.48,125.06 L272.16,124.61 L273.94,126.01 L275.12,125.80 L274.77,126.80 L275.47,126.97 L275.08,128.01 L275.99,128.01 L275.61,129.04 L276.52,129.04 L277.28,129.17 L276.89,129.41 L277.00,130.22 L277.37,130.68 L277.77,131.10 L277.98,131.77 L278.43,132.13 L279.80,131.25 L280.90,131.50 L281.38,131.89 L281.01,133.13 L281.61,133.41 L281.40,134.49 L282.02,134.74 L282.12,135.52 L282.43,136.08 L282.83,136.55 L283.47,136.79 L284.46,136.66 L285.58,136.73 L286.59,136.68 L286.34,137.70 L286.66,138.24 L286.65,139.05 L287.71,138.95 L287.61,139.85 L287.88,140.43 L287.62,141.46 L288.24,141.73 L288.85,142.02 L289.51,142.27 L289.32,142.85 L289.23,143.94 L290.05,143.93 L290.39,144.50 L290.81,144.97 L290.61,146.19 L291.86,145.66 L292.96,145.32 L293.65,145.46 L293.42,146.73 L293.61,146.36 L294.41,145.98 L295.06,146.02 L295.30,147.31 L295.83,147.72 L296.69,147.14 L297.47,146.80 L298.31,146.28 L298.85,146.64 L299.44,146.87 L299.66,148.22 L300.12,148.84 L300.73,149.02 L301.62,148.34 L302.36,148.12 L302.83,148.71 L300.80,149.96 L300.98,149.37 L301.52,149.08 L302.04,148.76 L303.39,149.11 L303.38,148.38 L303.80,147.99 L303.48,147.00 L303.92,146.63 L307.03,146.58 L306.61,147.55 L306.86,148.08 L307.83,148.13 L309.37,147.79 L309.46,148.43 L309.83,148.87 L309.72,149.64 L311.09,149.42 L311.88,149.58 L310.35,148.61 L310.37,150.18 L310.50,151.44 L310.86,152.11 L311.56,151.85 L312.36,151.35 L313.20,150.74 L313.77,150.84 L314.42,150.73 L315.28,151.85 L315.84,152.06 L315.89,153.02 L316.79,152.74 L317.68,152.48 L318.22,152.71 L318.68,153.08 L318.64,154.16 L319.27,154.27 L319.32,155.23 L320.17,156.16 L320.13,156.91 L320.59,157.30 L321.65,157.25 L322.33,157.48 L322.10,158.37 L322.35,158.91 L322.78,159.32 L323.75,159.34 L323.74,160.07 L323.43,161.02 L323.16,160.62 L323.43,161.45 L324.42,160.53 L324.65,161.47 L325.41,161.10 L325.41,162.62 L326.32,161.88 L326.77,162.27 L326.40,162.43 L327.07,163.18 L327.55,162.20 L328.13,162.09 L328.77,162.50 L329.35,162.43 L331.43,162.95 L332.92,162.78 L333.25,163.34 L333.58,163.90 L331.67,164.23 L332.05,165.78 L332.59,165.68 L333.14,165.50 L331.99,165.94 L332.01,165.31 L332.89,164.83 L333.61,164.32 L334.20,163.80 L333.07,162.99 L333.33,162.40 L333.22,161.76 L333.14,161.12 L333.40,160.54 L332.64,159.79 L336.41,159.26 L337.68,159.67 L336.98,160.37 L337.16,160.93 L335.78,161.73 L336.89,162.16 L335.90,162.90 L336.31,163.44 L335.48,164.15 L335.92,164.68 L335.92,165.28 L335.88,165.88 L335.88,165.57 L336.37,165.84 L336.93,165.76 L337.27,166.81 L337.95,166.80 L337.17,167.32 L337.19,167.27 L336.80,166.46 L336.39,165.75 L335.65,166.74 L334.22,166.12 L333.72,165.59 L333.70,165.00 L334.97,164.22 L334.21,163.74 L334.49,163.10 L333.34,162.67 L333.10,162.11 L332.16,161.65 L331.94,161.08 L332.83,160.36 L332.66,159.79 L336.96,160.50 L337.36,161.19 L336.59,161.69 L335.13,162.07 L334.89,162.66 L334.79,163.27 L335.88,164.07 L336.15,164.74 L336.63,165.45 L335.56,165.90 L335.41,166.50 L332.93,167.69 L332.33,168.38 L331.77,168.75 L331.25,168.66 L329.14,166.73 L329.67,165.62 L329.56,164.91 L328.91,164.56 L329.67,165.25 L329.05,164.98 L328.50,165.35 L327.91,165.36 L327.50,166.93 L326.96,167.36 L324.53,167.80 L324.05,167.48 L324.01,166.08 L323.46,165.93 L322.96,165.65 L322.32,165.71 L322.17,164.59 L322.00,163.48 L320.44,163.21 L319.34,163.28 L319.25,162.62 L319.17,161.96 L319.56,160.95 L318.25,161.18 L318.81,160.05 L317.53,160.26 L317.18,159.79 L316.76,159.37 L317.07,158.41 L317.54,157.82 L317.10,157.43 L316.46,157.33 L316.14,156.77 L315.60,156.52 L315.26,156.00 L314.65,155.84 L313.81,156.04 L313.63,155.27 L313.16,154.94 L312.65,155.45 L311.78,156.14 L311.05,156.47 L310.80,155.51 L310.17,155.58 L309.92,154.60 L309.11,155.16 L308.93,154.02 L308.30,154.07 L307.17,152.72 L306.76,152.31 L305.91,152.18 L305.34,151.87 L305.02,151.39 L304.59,150.98 L304.45,150.38 L303.49,150.33 L303.99,149.30 L304.14,148.51 L307.03,149.11 L307.62,150.31 L307.70,151.11 L307.15,151.40 L306.43,151.55 L306.22,152.11 L305.98,152.64 L304.98,152.57 L304.15,152.64 L301.60,152.41 L300.81,152.77 L300.50,151.69 L299.63,152.30 L298.92,152.44 L298.07,153.00 L297.89,151.52 L297.27,151.39 L296.90,150.49 L296.29,150.34 L295.61,150.36 L294.78,150.86 L293.95,151.35 L293.49,150.72 L292.72,151.04 L292.33,150.21 L291.56,148.95 L291.70,147.81 L291.22,147.40 L290.69,147.07 L290.37,146.48 L289.84,146.14 L288.76,146.45 L288.10,146.27 L286.87,146.77 L287.10,145.52 L286.07,145.22 L286.13,144.36 L285.43,144.14 L285.30,143.45 L285.45,142.51 L284.55,142.47 L284.20,141.96 L283.83,141.47 L283.45,140.98 L283.25,140.35 L282.20,140.44 L282.62,139.27 L281.45,139.68 L281.40,138.85 L280.82,138.57 L281.31,137.19 L280.87,136.77 L280.30,136.46 L279.24,136.65 L278.76,136.26 L278.40,135.74 L277.75,135.52 L277.38,135.02 L276.49,135.66 L275.91,135.48 L275.24,135.43 L275.61,133.98 L275.71,132.90 L275.44,132.30 L274.88,132.10 L273.86,131.90 L273.22,131.69 L272.24,131.74 L272.66,130.68 L272.19,130.32 L272.28,129.52 L271.14,129.71 L270.49,129.50 L269.72,129.39 L270.95,130.69 L270.58,129.55 L270.01,129.42 L269.48,129.13 L268.93,128.90 L268.48,128.18 L267.98,127.72 L266.56,128.59 L265.96,128.37 L265.54,127.78 L264.99,127.46 L263.95,128.17 L263.18,128.31 L262.87,127.51 L263.29,126.27 L262.75,126.02 L262.16,126.00 L261.34,127.11 L260.71,127.31 L260.08,127.49 L259.52,127.32 L262.48,126.45 L261.84,126.67 L260.85,126.61 L260.46,127.03 L260.60,127.87 L260.85,128.79 L260.62,129.34 L259.92,129.50 L259.52,129.92 L254.45,128.68 L253.99,128.27 L253.92,127.63 L253.80,127.03 L253.62,126.46 L253.98,125.57 L253.66,125.08 L253.10,124.73 L252.34,124.48 L252.38,123.78 L253.14,122.68 L253.52,122.82 L253.12,123.22 L253.48,124.38 L253.37,125.07 L253.26,125.76 L252.02,125.32 L252.33,126.29 L252.19,126.99 L252.39,127.97 L251.36,127.92 L251.14,128.54 L250.99,129.22 L251.06,130.10 L249.95,129.97 L246.16,130.31 L245.48,130.30 L244.51,130.66 L244.07,130.31 L243.68,129.90 L243.64,129.02 L243.30,128.15 L243.13,127.38 L242.83,126.78 L242.81,125.84 L241.91,125.35 L241.12,125.16 L239.80,125.34 L240.31,124.23 L239.71,123.90 L240.49,122.59 L240.07,122.14 L239.41,121.86 L238.34,121.87 L241.36,123.65 L240.88,124.03 L240.12,123.85 L239.38,123.69 L238.24,122.75 L237.67,122.94 L236.30,122.46 L235.82,122.09 L235.39,121.61 L234.86,121.35 L234.05,121.64 L233.19,122.01 L233.95,122.93 L233.31,123.09 L232.81,123.78 L232.12,123.76 L231.56,124.26 L229.08,123.31 L228.31,123.52 L227.85,123.11 L227.39,122.69 L227.32,121.48 L227.06,120.67 L227.40,121.54 L226.89,122.22 L226.57,123.62 L225.94,123.84 L225.30,123.99 L225.82,123.56 L225.13,123.57 L224.19,123.20 L223.64,123.42 L223.20,123.79 L219.22,123.98 L219.58,122.82 L218.99,122.61 L218.57,122.23 L218.00,122.00 L217.84,121.36 L220.74,120.97 L221.12,121.87 L220.37,122.10 L220.64,122.94 L220.08,123.29 L219.81,123.81 L218.55,123.73 L218.06,124.11 L217.58,125.22 L217.43,126.03 L217.31,126.88 L216.37,126.52 L216.30,127.46 L213.12,125.53 L212.57,125.18 L212.50,124.54 L211.40,124.52 L210.94,124.11 L211.48,123.11 L211.04,122.70 L210.45,122.37 L214.95,123.83 L214.43,124.15 L213.14,123.90 L211.84,123.64 L211.44,124.05 L211.26,124.63 L211.18,125.29 L210.64,126.40 L210.34,127.00 L209.68,127.03 L208.50,126.31 L208.37,127.16 L206.19,128.23 L205.39,128.64 L205.07,127.59 L204.79,126.44 L206.16,126.28 L205.77,126.77 L206.32,127.67 L206.70,128.49 L207.30,129.41 L206.89,129.90 L206.10,130.22 L205.16,130.49 L204.91,131.04 L204.93,131.71 L205.36,133.02 L204.69,133.29 L203.99,133.55 L203.09,133.69 L203.04,134.35 L202.67,134.80 L202.20,135.20 L201.59,135.51 L201.89,136.38 L201.75,136.97 L200.74,137.04 L199.23,136.82 L199.16,137.45 L199.70,138.46 L199.43,138.98 L199.12,139.47 L196.97,139.03 L196.12,139.08 L196.36,138.04 L196.63,136.97 L196.09,136.71 L195.66,136.34 L196.00,137.60 Z" fill="#8ee6c4" stroke="none"/><path d="M113.40,284.17 L113.47,284.79 L113.72,285.35 L113.81,285.96 L113.98,286.55 L114.39,287.06 L114.40,287.49 L114.97,287.84 L115.53,287.60 L116.00,287.65 L116.55,287.29 L116.60,286.67 L117.00,286.23 L117.11,285.65 L117.43,285.17 L117.49,284.56 L117.94,284.15 L118.29,283.69 L118.41,283.10 L118.70,282.59 L118.87,282.03 L118.81,281.38 L119.31,280.94 L119.44,280.36 L119.51,279.77 L119.60,279.18 L120.16,278.76 L120.19,278.15 L120.50,277.63 L120.77,277.11 L120.90,276.53 L121.18,275.98 L121.14,275.32 L121.51,274.79 L121.54,274.16 L121.95,273.65 L122.12,273.06 L121.96,272.36 L122.17,271.78 L122.40,271.21 L122.93,270.74 L122.88,270.07 L123.16,269.52 L123.17,268.90 L123.43,268.36 L123.54,267.77 L123.69,267.19 L123.96,266.65 L124.13,266.08 L124.44,265.55 L124.50,264.95 L124.78,264.42 L124.91,263.83 L125.14,263.28 L125.15,262.67 L125.07,262.03 L125.58,261.54 L125.75,260.96 L125.84,260.37 L125.80,259.76 L125.99,259.19 L125.87,258.55 L126.30,258.03 L126.29,257.42 L126.27,256.81 L126.28,256.20 L126.80,255.70 L126.99,255.13 L126.66,254.46 L127.14,253.95 L127.07,253.32 L127.06,252.71 L127.25,252.14 L127.61,251.61 L127.78,251.05 L127.54,250.36 L127.98,249.86 L127.86,249.20 L128.36,248.71 L128.33,248.08 L128.77,247.58 L128.98,247.02 L128.91,246.37 L129.32,245.86 L129.14,245.18 L129.18,244.57 L129.61,244.07 L129.48,243.41 L129.73,242.85 L130.00,242.30 L130.27,241.75 L130.20,241.11 L130.30,240.51 L130.89,240.05 L130.75,239.39 L131.23,238.89 L131.34,238.30 L131.21,237.65 L131.40,237.08 L131.58,236.50 L131.79,235.94 L131.91,235.35 L132.03,234.76 L132.21,234.18 L132.52,233.64 L132.44,233.00 L132.54,232.41 L132.84,231.86 L132.73,231.22 L132.90,230.64 L133.41,230.15 L133.31,229.50 L133.49,228.94 L133.38,228.30 L133.76,227.80 L134.02,227.26 L133.88,226.61 L134.37,226.14 L134.55,225.58 L134.41,224.92 L134.88,224.45 L134.97,223.86 L135.25,223.33 L135.24,222.72 L135.60,222.21 L135.79,221.65 L135.56,220.97 L135.75,220.42 L136.26,219.96 L136.59,219.44 L136.36,218.77 L136.59,218.22 L136.79,217.66 L136.75,217.05 L136.90,216.48 L136.98,215.89 L137.13,215.32 L137.38,214.77 L137.33,214.16 L137.49,213.59 L137.84,213.06 L137.53,212.39 L137.96,211.88 L138.17,211.32 L138.05,210.70 L138.11,210.11 L138.57,209.60 L138.36,208.96 L138.45,208.37 L138.71,207.82 L138.98,207.28 L138.75,206.63 L139.00,206.08 L139.12,205.50 L139.53,204.97 L139.41,204.34 L139.77,203.81 L139.49,203.14 L139.70,202.58 L140.00,202.03 L140.26,201.48 L140.12,200.84 L140.09,200.23 L140.14,199.63 L140.52,199.10 L140.41,198.48 L140.94,197.98 L141.09,197.40 L140.74,196.72 L140.92,196.15 L141.43,195.65 L141.43,195.03 L141.67,194.47 L141.43,193.81 L141.36,193.18 L141.61,192.62 L142.15,192.12 L141.82,191.44 L142.00,190.86 L142.18,190.29 L142.29,189.70 L142.40,189.11 L143.00,188.61 L142.39,187.88 L142.35,187.26 L143.39,186.85 L143.45,186.25 L143.68,185.69 L143.23,184.99 L143.90,184.55 L144.00,183.99 L143.36,183.27 L144.06,182.84 L144.29,182.31 L144.22,181.71 L144.18,181.12 L144.03,180.50 L144.21,179.95 L144.24,179.35 L144.20,178.73 L144.99,178.35 L144.77,177.68 L145.60,177.31 L144.77,176.47 L146.05,176.23 L145.94,175.59 L146.42,175.13 L146.55,174.56 L146.72,174.00 L146.43,173.31 L145.77,172.52 L147.00,172.26 L146.34,171.37 L146.78,170.92 L147.57,170.65 L147.64,170.02 L147.74,169.40 L148.82,169.27 L148.58,168.49 L148.41,167.74 L148.52,167.13 L149.81,167.11 L149.43,166.25 L150.23,165.98 L149.73,165.07 L149.73,164.40 L150.60,164.16 L151.37,163.88 L150.48,162.77 L151.86,162.79 L152.20,162.60 L152.43,162.03 L152.86,161.66 L152.10,160.10 L153.38,160.58 L154.11,160.51 L153.36,158.96 L154.08,158.88 L154.47,158.47 L155.24,158.44 L155.49,157.89 L155.96,157.56 L156.83,157.55 L156.02,156.08 L156.50,155.64 L157.02,155.23 L157.41,154.73 L157.73,154.16 L159.62,154.67 L159.72,154.03 L158.68,152.74 L159.70,152.63 L159.68,151.92 L159.98,151.39 L160.34,150.90 L161.16,150.67 L161.35,150.09 L161.26,149.36 L161.27,148.68 L161.81,148.32 L161.75,147.61 L162.80,147.56 L162.86,147.41 L163.68,146.97 L164.47,146.60 L165.00,146.99 L165.32,147.56 L166.07,147.80 L166.78,147.94 L167.12,146.97 L167.61,147.57 L168.32,147.43 L169.04,147.27 L169.37,147.49 L169.85,147.08 L170.48,146.75 L170.23,145.99 L170.98,145.72 L170.82,144.99 L170.69,144.29 L171.33,144.03 L171.27,144.68 L172.64,144.71 L172.21,145.52 L172.44,146.04 L171.83,146.92 L171.95,147.49 L173.21,147.58 L173.76,148.76 L174.06,148.16 L173.76,146.96 L174.50,146.80 L174.29,146.14 L175.79,146.09 L175.70,145.45 L176.33,145.07 L176.35,144.47 L176.31,143.85 L176.64,143.36 L176.52,142.71 L175.86,141.85 L176.80,141.78 L177.40,140.61 L178.00,140.89 L178.10,141.82 L179.66,141.77 L179.80,142.33 L180.01,142.86 L178.80,144.00 L180.31,143.97 L180.83,144.37 L179.55,145.54 L181.05,145.41 L180.11,146.65 L180.70,146.98 L180.72,147.65 L180.82,148.27 L181.76,148.38 L181.67,149.07 L183.29,148.90 L182.24,150.07 L182.95,150.35 L182.84,151.05 L184.19,151.02 L183.30,152.11 L184.48,153.12 L183.96,151.37 L184.71,151.51 L185.42,151.61 L186.01,151.82 L186.24,150.51 L186.80,150.19 L187.20,150.29 L188.13,150.30 L188.69,150.02 L188.46,149.14 L188.76,148.67 L189.15,148.26 L189.42,147.76 L189.84,147.45 L189.40,146.67 L190.38,146.38 L191.46,146.11 L190.58,145.19 L191.41,144.84 L190.48,143.91 L191.67,143.68 L191.97,143.19 L192.03,142.61 L191.96,141.96 L192.11,141.41 L192.62,141.01 L193.30,140.67 L192.12,139.59 L192.24,139.02 L193.55,139.15 L194.19,138.99 L194.02,138.02 L194.32,137.52 L195.11,137.51 L194.75,136.35 L195.94,136.06 L196.45,136.35 L196.27,137.33 L197.09,137.31 L197.62,137.58 L197.29,138.71 L198.89,139.34 L197.89,138.06 L199.02,138.05 L198.72,137.19 L199.93,137.24 L199.68,136.41 L199.30,135.50 L199.49,134.94 L199.36,134.18 L200.65,134.27 L200.74,133.64 L200.56,132.86 L201.28,132.61 L201.49,132.05 L202.84,132.18 L201.66,130.80 L204.06,131.34 L202.99,130.22 L203.54,129.79 L203.44,129.08 L204.64,128.94 L204.86,128.37 L204.39,127.51 L204.43,126.86 L205.32,126.58 L205.94,126.18 L205.29,124.92 L205.58,126.06 L205.96,126.91 L207.03,125.71 L207.15,125.33 L207.64,125.02 L208.92,125.90 L209.33,125.48 L210.28,125.87 L210.85,125.04 L209.72,123.48 L209.94,122.93 L210.45,122.59 L210.62,122.01 L212.21,122.48 L212.92,122.30 L211.37,121.82 L213.33,121.32 L212.06,122.76 L213.78,122.41 L213.80,123.08 L213.31,124.05 L215.27,123.56 L215.55,124.07 L215.36,126.03 L214.93,124.36 L215.52,124.20 L216.37,124.44 L217.01,124.36 L215.93,122.84 L217.08,122.85 L217.64,122.50 L218.06,122.08 L217.65,121.15 L218.92,121.23 L220.17,121.30 L219.02,119.93 L219.51,119.69 L220.81,119.19 L220.88,119.92 L220.45,121.15 L222.02,120.38 L220.78,122.42 L222.68,123.02 L221.81,120.67 L223.69,122.46 L223.23,120.73 L224.37,121.40 L224.59,121.15 L224.89,119.64 L225.81,120.59 L226.43,120.37 L227.18,120.65 L227.91,118.97 L227.79,120.55 L228.05,121.37 L228.97,120.86 L229.68,120.76 L230.79,119.90 L230.80,121.18 L231.33,120.61 L232.24,121.51 L232.85,121.24 L233.41,120.75 L234.43,119.55 L234.34,121.06 L234.89,121.28 L236.03,120.34 L235.61,122.51 L236.46,122.15 L236.69,120.99 L238.31,122.89 L237.79,120.50 L238.57,120.75 L239.63,121.52 L240.00,120.93 L240.27,120.50 L240.39,121.16 L241.21,121.33 L241.93,121.57 L242.61,121.84 L243.23,122.15 L242.01,123.78 L242.27,124.34 L243.14,124.47 L243.14,125.45 L244.35,124.98 L245.00,125.16 L245.25,125.83 L244.83,127.40 L246.77,125.73 L246.39,127.18 L247.30,126.89 L246.82,128.48 L248.01,127.81 L247.82,128.18 L248.38,127.84 L249.10,127.63 L250.02,127.60 L249.46,126.32 L251.00,126.80 L249.71,124.90 L250.47,124.73 L250.55,123.85 L250.98,123.48 L252.79,124.49 L253.08,123.98 L252.33,122.43 L252.74,122.04 L254.02,122.18 L253.46,123.17 L253.56,123.79 L254.02,124.20 L254.72,124.47 L256.18,124.32 L255.81,125.20 L256.63,125.41 L256.06,126.41 L256.24,126.98 L257.49,126.95 L256.41,127.43 L258.02,127.98 L256.61,126.13 L258.78,127.13 L259.34,126.86 L259.83,126.52 L258.86,125.01 L259.61,124.89 L260.04,124.50 L260.12,124.29 L260.49,125.42 L261.23,124.68 L262.03,123.65 L262.27,125.42 L263.07,124.42 L263.57,124.88 L263.91,125.31 L265.41,123.62 L264.99,125.98 L265.71,125.95 L266.50,125.76 L267.03,126.12 L267.68,126.22 L268.38,125.70 L268.75,126.80 L269.62,125.47 L269.91,126.94 L270.40,127.49 L271.09,127.01 L271.59,127.48 L271.12,128.26 L271.64,128.58 L273.76,127.61 L272.58,129.28 L273.33,129.41 L275.03,128.78 L274.66,129.80 L275.31,130.01 L276.03,130.16 L275.33,131.49 L275.08,132.77 L276.63,131.66 L276.10,133.32 L276.88,133.24 L278.34,132.24 L277.50,134.32 L278.39,134.01 L278.13,135.14 L279.01,135.13 L279.40,135.62 L280.68,135.21 L280.13,136.63 L280.30,137.33 L280.89,137.62 L282.22,137.16 L281.98,138.27 L283.00,138.13 L284.29,137.84 L284.84,138.17 L285.16,138.71 L285.28,139.41 L285.77,139.80 L285.41,140.93 L285.35,141.79 L286.11,141.94 L286.78,142.18 L286.66,143.09 L287.84,142.89 L287.88,143.66 L287.71,144.79 L288.87,144.37 L289.77,144.26 L288.87,146.32 L289.70,146.31 L290.86,145.89 L291.33,146.30 L291.50,147.07 L291.85,147.62 L293.05,147.16 L293.47,146.78 L293.88,147.57 L293.93,149.41 L295.14,147.79 L295.44,148.89 L296.29,148.33 L296.88,148.57 L297.51,148.66 L297.89,149.53 L298.71,149.06 L299.45,148.86 L299.97,149.29 L300.51,149.66 L300.81,150.77 L301.82,149.75 L302.45,149.84 L302.48,151.30 L302.74,150.78 L303.79,150.89 L302.62,149.23 L303.80,149.44 L304.14,148.98 L303.62,147.85 L306.18,149.16 L304.79,147.32 L306.81,146.72 L306.18,147.84 L307.28,147.80 L306.45,149.04 L307.46,149.06 L308.34,149.17 L308.84,149.53 L307.47,151.14 L308.92,150.87 L307.96,152.20 L309.04,152.10 L309.08,153.62 L310.28,152.04 L310.86,152.10 L311.38,152.34 L311.34,154.08 L312.06,153.76 L312.90,153.16 L313.69,152.66 L313.49,154.45 L313.48,155.49 L314.60,154.89 L316.08,153.76 L316.52,154.16 L316.90,154.64 L317.24,155.17 L317.95,155.16 L318.40,155.54 L317.86,157.35 L317.63,158.01 L319.67,157.24 L318.14,159.08 L319.69,158.68 L319.25,159.73 L319.32,160.40 L319.61,160.92 L322.15,159.78 L321.84,160.74 L321.45,161.74 L320.97,162.82 L322.86,161.35 L323.16,162.14 L323.06,163.90 L324.41,162.07 L324.62,163.04 L325.21,163.10 L325.35,164.28 L325.59,165.18 L326.49,163.23 L327.27,164.85 L327.85,164.76 L328.46,165.00 L328.95,164.09 L329.66,165.13 L330.45,163.58 L330.66,164.22 L331.45,164.48 L330.49,165.87 L331.51,165.95 L332.08,165.44 L332.63,165.26 L333.02,166.69 L333.85,166.24 L334.19,165.67 L333.54,164.94 L333.87,164.37 L333.21,163.63 L334.57,163.23 L333.13,162.37 L334.23,161.92 L334.97,161.42 L334.89,160.78 L333.73,159.97 L335.27,159.42 L334.05,160.19 L334.56,160.71 L334.15,161.36 L334.25,161.94 L335.22,162.40 L334.38,163.12 L334.80,163.65 L335.71,164.12 L335.71,164.71 L336.39,165.21 L335.82,165.89 L335.53,167.40 L336.37,165.86 L336.73,166.82 L337.40,166.14 L338.37,166.52 L337.95,167.56 L338.84,167.72 L339.44,168.08 L339.71,168.80 L339.22,169.67 L339.54,170.22 L340.61,170.47 L340.52,171.18 L339.69,172.19 L340.95,172.24 L340.87,173.02 L341.40,173.36 L341.31,174.16 L341.87,174.46 L342.00,175.10 L342.65,175.32 L343.34,175.72 L343.54,176.29 L343.87,176.82 L343.00,177.75 L344.20,177.98 L344.52,178.51 L343.38,179.53 L344.65,179.74 L343.86,180.64 L345.19,180.83 L344.84,181.57 L345.47,181.94 L345.00,182.93 L345.59,183.32 L345.87,183.88 L346.03,184.51 L346.20,185.13 L347.17,185.30 L347.16,186.03 L347.67,186.47 L348.36,186.78 L347.70,187.76 L348.27,188.13 L348.25,188.80 L349.28,188.94 L349.13,189.67 L349.48,190.15 L349.41,190.82 L350.48,191.03 L350.37,191.74 L350.44,192.37 L351.20,192.71 L350.83,193.53 L350.85,194.19 L351.48,194.58 L351.44,195.26 L351.73,195.80 L352.10,196.30" fill="none" stroke="#8ee6c4" stroke-width="2.1" stroke-linejoin="round" stroke-linecap="butt"/><path d="M198.20,124.22 L198.25,123.63 L198.31,123.04 L200.60,122.20 L201.86,122.12 L201.99,122.73 L200.91,124.06 L202.00,124.08 L201.20,125.24 L202.57,125.10 L202.22,125.99 L201.51,126.31 L202.43,126.43 L203.29,126.49 L203.32,125.72 L202.73,124.33 L203.04,123.84 L202.99,123.55 L203.74,123.32 L202.75,122.05 L203.53,121.84 L204.32,121.63 L205.99,121.96 L206.15,121.37 L207.15,121.29 L206.77,120.38 L206.93,119.80 L206.59,118.91 L206.33,118.08 L207.10,117.86 L206.85,117.03 L208.11,117.10 L208.40,116.60 L209.33,116.46 L208.37,115.32 L208.39,114.66 L208.69,114.15 L209.04,113.65 L207.83,112.38 L207.83,111.72 L207.81,111.04 L209.75,111.34 L210.03,110.66 L211.22,110.69 L210.58,109.63 L211.16,109.30 L212.19,109.23 L212.30,108.62 L212.08,107.81 L211.77,106.94 L214.72,105.44 L215.17,106.09 L215.80,106.21 L216.30,106.69 L215.95,107.04 L216.54,106.81 L216.90,105.91 L217.72,106.37 L217.76,106.04 L218.65,106.33 L218.42,104.95 L219.58,105.65 L220.68,106.26 L221.11,106.13 L222.22,105.51 L223.71,104.31 L223.74,105.31 L224.49,105.23 L224.44,106.35 L225.56,105.70 L225.86,106.29 L226.56,106.28 L227.23,106.32 L223.95,106.12 L224.64,106.12 L225.83,106.87 L227.04,107.63 L227.12,106.72 L227.23,106.43 L226.73,105.13 L227.44,105.04 L228.05,104.85 L229.76,105.76 L230.23,105.43 L230.62,105.13 L230.01,104.22 L230.36,103.70 L230.07,102.92 L231.28,102.74 L231.94,102.34 L231.95,101.68 L233.07,100.75 L233.57,101.12 L234.10,101.45 L234.32,102.00 L234.32,102.69 L233.93,103.38 L234.63,103.50 L234.69,101.68 L235.22,101.26 L235.61,100.44 L236.43,100.89 L236.81,100.02 L237.45,99.94 L237.46,100.28 L238.04,100.09 L237.65,98.64 L238.78,99.15 L239.28,98.85 L239.78,98.54 L239.19,96.84 L241.36,95.42 L242.23,96.76 L242.83,96.44 L243.46,96.25 L243.82,94.39 L244.54,94.76 L245.13,94.38 L245.83,94.66 L246.54,94.98 L247.39,96.26 L247.85,97.23 L247.86,95.61 L248.00,94.28 L248.61,94.05 L249.20,93.78 L251.94,92.85 L252.62,92.16 L253.11,92.97 L253.55,94.20 L254.07,94.76 L254.63,95.01 L255.34,94.02 L256.05,93.06 L256.69,92.71 L257.32,92.40 L257.79,93.39 L260.16,93.81 L259.83,95.65 L260.38,95.91 L261.02,96.02 L261.96,95.59 L262.54,95.82 L263.09,96.09 L263.63,96.37 L264.77,95.60 L264.54,97.25 L265.58,96.65 L265.48,98.07 L265.79,98.78 L265.44,100.64 L266.39,100.20 L267.40,99.66 L268.67,98.65 L269.09,99.15 L269.28,100.06 L269.10,101.62 L269.98,101.30 L271.02,100.70 L271.74,100.67 L272.10,101.28 L271.39,102.05 L271.84,102.72 L272.23,103.64 L273.04,102.88 L273.64,102.93 L274.24,102.99 L274.91,102.78 L275.79,101.74 L276.56,101.16 L276.80,102.65 L277.26,103.28 L276.57,104.50 L277.14,104.35 L277.91,105.21 L278.29,104.04 L278.71,103.07 L279.25,102.75 L280.06,103.84 L280.63,103.69 L281.13,103.13 L281.49,101.83 L281.98,101.25 L283.76,99.78 L284.32,100.21 L284.89,100.40 L285.41,101.44 L285.92,102.73 L286.51,102.59 L287.09,102.71 L287.68,102.52 L288.20,103.51 L288.79,103.48 L289.38,103.31 L291.36,102.44 L291.53,103.49 L292.14,103.57 L292.00,105.33 L292.64,105.33 L293.67,104.41 L294.84,103.20 L295.93,102.17 L296.11,103.19 L295.90,105.13 L295.81,106.79 L296.42,106.84 L296.75,106.31 L297.40,106.08 L298.02,106.04 L298.45,106.89 L298.94,107.44 L299.34,108.39 L299.95,108.37 L300.60,108.21 L301.21,108.18 L302.06,107.10 L302.88,106.14 L305.73,106.42 L306.55,106.37 L306.13,107.80 L306.50,108.28 L307.00,108.60 L308.29,107.98 L309.01,108.04 L308.90,109.11 L309.33,109.52 L309.69,110.01 L310.11,110.44 L310.45,110.96 L310.66,111.63 L310.66,112.56 L310.98,112.55 L311.25,113.21 L311.67,113.66 L311.38,115.14 L312.07,115.18 L313.56,114.03 L314.07,114.34 L314.39,114.92 L314.67,115.56 L316.14,114.44 L316.96,114.28 L317.35,114.78 L317.83,115.13 L319.42,115.84 L318.80,117.30 L318.19,118.76 L318.52,119.28 L319.73,118.95 L320.19,119.35 L320.02,120.37 L321.07,120.19 L322.20,119.93 L322.81,120.18 L321.96,121.88 L322.01,122.68 L322.32,123.23 L323.18,123.24 L324.42,122.87 L323.78,123.07 L324.10,123.71 L323.92,125.16 L324.80,124.88 L325.90,124.25 L327.15,123.37 L327.98,123.18 L328.64,123.25 L328.67,124.38 L328.41,125.96 L328.85,126.39 L329.35,126.74 L328.94,126.34 L329.29,127.34 L330.08,126.54 L330.49,127.27 L331.07,127.33 L331.48,128.09 L332.38,126.86 L332.88,127.25 L333.10,128.72 L333.61,129.10 L335.19,129.05 L336.10,128.72 L336.76,128.78 L337.22,129.14 L337.28,130.12 L337.31,131.15 L337.30,132.24 L338.54,131.41 L338.65,132.32 L339.17,132.59 L339.65,132.92 L340.53,132.75 L341.09,132.99 L341.10,134.02 L341.45,134.56 L342.41,134.19 L342.87,134.57 L343.60,134.55 L343.37,135.95 L344.02,136.04 L343.59,137.78 L344.09,138.04 L344.50,138.42 L345.48,138.12 L346.31,138.00 L344.62,139.98 L344.84,138.87 L344.00,139.00 L342.64,139.74 L341.31,140.44 L340.96,140.52 L340.72,139.83 L340.58,138.99 L340.51,138.04 L340.40,137.15 L339.88,136.85 L339.13,136.90 L338.53,136.74 L338.04,136.40 L337.58,136.11 L336.81,136.22 L335.63,136.97 L335.02,136.84 L334.94,135.89 L335.03,134.67 L334.38,134.60 L333.82,134.39 L332.80,134.89 L332.33,134.53 L331.49,134.75 L332.36,134.07 L331.65,134.53 L330.84,135.39 L329.93,136.67 L329.40,136.40 L328.84,136.26 L328.55,135.03 L327.93,135.15 L327.71,133.65 L326.87,134.61 L325.45,133.10 L325.19,132.36 L325.49,130.71 L324.67,130.89 L324.10,130.67 L323.15,131.06 L322.67,130.68 L321.22,131.89 L320.46,131.97 L320.68,130.45 L321.15,128.53 L321.39,126.96 L320.16,127.06 L319.54,126.82 L318.87,126.63 L318.96,125.69 L318.78,125.01 L317.96,124.96 L317.20,124.86 L315.53,125.65 L315.22,125.10 L314.98,124.48 L314.84,123.77 L314.95,122.81 L313.79,123.09 L313.31,122.72 L311.79,123.35 L312.20,123.50 L312.55,121.92 L312.51,120.91 L312.13,120.42 L310.82,121.31 L309.62,122.02 L308.94,121.97 L308.22,121.98 L308.42,120.62 L307.88,120.35 L307.97,119.17 L307.45,118.88 L307.16,118.24 L306.19,117.96 L304.93,118.55 L304.55,118.08 L303.97,117.85 L304.12,116.74 L303.30,116.80 L302.50,116.83 L301.85,116.68 L301.82,115.80 L301.98,114.68 L301.97,113.75 L302.07,112.71 L301.21,112.81 L300.52,112.72 L301.14,114.10 L300.54,114.05 L300.03,113.61 L299.62,112.65 L299.22,111.72 L298.70,111.30 L297.80,112.62 L296.96,113.67 L296.26,114.08 L295.70,113.88 L295.23,113.26 L293.62,113.24 L293.37,112.36 L292.81,112.19 L292.09,112.39 L291.28,112.79 L291.36,111.15 L291.42,109.56 L290.68,109.79 L289.56,110.91 L289.02,110.69 L289.22,108.78 L289.03,107.76 L289.10,107.86 L288.49,108.26 L287.84,109.28 L287.18,110.49 L286.56,111.03 L286.06,109.79 L285.58,108.15 L284.97,108.47 L284.40,108.34 L283.78,108.93 L283.18,109.12 L283.57,109.70 L282.87,109.22 L281.99,107.71 L281.54,108.52 L281.08,109.28 L280.50,109.40 L279.74,108.55 L279.30,109.46 L278.80,109.99 L278.08,109.36 L277.41,109.00 L275.77,109.25 L274.84,110.48 L274.21,110.53 L273.58,110.57 L273.29,109.26 L272.94,108.20 L272.41,107.86 L271.60,108.60 L271.02,108.46 L270.42,108.40 L270.10,107.21 L269.13,106.56 L269.12,105.34 L268.30,105.54 L267.69,105.39 L266.66,105.96 L266.32,105.32 L265.50,105.53 L265.02,105.14 L264.12,105.49 L263.30,105.69 L262.54,105.80 L261.76,105.93 L262.05,104.17 L261.43,104.03 L261.21,103.17 L260.56,103.08 L260.22,102.43 L259.62,102.26 L259.15,101.85 L258.99,100.88 L257.99,101.41 L256.50,102.80 L255.94,102.55 L256.22,100.81 L257.02,99.54 L256.45,99.35 L255.67,100.88 L255.04,101.19 L254.43,101.34 L254.07,99.49 L253.52,99.17 L252.83,99.94 L252.17,100.47 L251.47,101.37 L251.01,100.30 L251.99,100.21 L250.87,99.27 L250.29,99.57 L249.73,99.93 L249.68,101.45 L248.31,102.09 L247.69,102.34 L247.07,102.56 L246.34,102.13 L245.74,102.46 L244.84,100.87 L244.23,101.19 L243.47,100.51 L242.83,100.64 L242.07,99.96 L241.76,100.14 L241.10,100.23 L241.52,101.72 L241.67,102.85 L241.45,103.50 L240.10,102.72 L238.55,101.67 L238.18,102.15 L238.08,103.83 L237.82,105.05 L237.44,105.92 L236.85,106.15 L235.90,105.30 L235.25,105.36 L234.65,105.56 L231.48,104.58 L230.88,104.29 L232.02,102.84 L231.51,102.49 L232.45,101.17 L232.41,101.87 L232.34,102.50 L231.90,102.99 L231.96,103.67 L232.25,104.45 L233.18,105.49 L232.83,106.01 L231.79,106.99 L231.59,107.59 L231.87,108.67 L230.91,108.51 L229.48,107.88 L227.97,107.17 L227.47,107.24 L227.39,108.17 L227.87,109.93 L227.57,110.52 L227.52,111.48 L224.94,109.76 L224.07,110.02 L224.22,108.75 L223.59,108.66 L222.93,108.60 L222.06,108.87 L221.44,108.76 L221.44,107.72 L220.67,107.83 L219.80,108.10 L221.75,107.86 L220.71,107.35 L220.03,107.37 L220.55,109.19 L220.75,110.52 L219.11,110.53 L218.25,109.96 L217.48,109.63 L217.38,111.34 L214.84,111.09 L214.08,111.36 L213.48,111.17 L213.12,110.23 L215.41,109.12 L214.08,109.01 L213.59,109.39 L213.01,109.72 L213.55,110.73 L213.59,111.44 L213.89,112.29 L212.91,112.38 L212.90,112.91 L212.43,113.35 L213.10,114.35 L213.23,115.08 L213.34,115.80 L211.45,115.52 L210.38,115.66 L208.63,115.45 L209.87,116.74 L209.65,117.35 L209.67,118.04 L208.86,118.24 L209.51,119.30 L209.61,120.05 L209.07,120.40 L207.96,120.42 L207.75,120.97 L206.79,121.08 L206.35,121.49 L206.00,121.96 L206.23,122.78 L205.79,123.19 L204.91,123.35 L204.84,123.98 L206.05,125.39 L205.33,126.13 L205.35,126.95 L204.17,126.57 L203.52,126.72 L202.26,126.26 L202.15,126.95 L200.88,126.79 L200.85,126.13 L201.33,125.16 L200.43,125.02 L199.15,125.11 L199.07,124.48 L198.78,123.97 L199.48,122.87 L200.36,123.62 L198.51,123.70 L199.03,124.46 Z" fill="#c2ecc6" stroke="none"/><path d="M111.34,270.49 L111.64,271.06 L112.26,271.47 L112.55,272.05 L112.57,272.75 L112.83,273.31 L113.07,273.89 L113.44,274.41 L113.54,275.04 L113.79,275.64 L114.39,275.80 L115.04,275.79 L115.58,276.08 L115.90,275.61 L116.36,275.24 L116.80,274.85 L117.12,274.38 L117.32,273.81 L117.49,273.22 L117.63,272.61 L117.74,272.00 L117.95,271.42 L118.35,270.92 L118.50,270.32 L118.74,269.76 L119.17,269.26 L119.19,268.63 L119.39,268.07 L119.42,267.45 L119.51,266.85 L119.82,266.33 L119.92,265.73 L120.26,265.21 L120.67,264.71 L120.70,264.10 L120.65,263.47 L121.12,262.93 L121.21,262.31 L121.31,261.69 L121.53,261.10 L121.59,260.47 L121.74,259.86 L121.66,259.21 L122.10,258.66 L122.22,258.03 L121.92,257.39 L122.29,256.85 L122.36,256.27 L122.31,255.66 L122.43,255.09 L122.50,254.50 L122.79,253.95 L122.67,253.33 L122.91,252.77 L122.76,252.16 L123.11,251.61 L123.20,251.03 L123.06,250.41 L123.20,249.84 L123.46,249.28 L123.44,248.68 L123.41,248.08 L123.36,247.48 L123.50,246.89 L123.78,246.32 L123.61,245.69 L124.07,245.15 L123.85,244.50 L124.26,243.96 L124.05,243.31 L124.47,242.77 L124.43,242.15 L124.43,241.54 L124.52,240.94 L124.68,240.36 L124.74,239.76 L124.70,239.14 L124.74,238.53 L124.98,237.96 L125.29,237.40 L125.22,236.78 L125.04,236.14 L125.51,235.60 L125.55,235.00 L125.74,234.42 L125.46,233.76 L125.84,233.21 L125.58,232.56 L125.98,232.02 L125.92,231.40 L126.04,230.83 L126.51,230.34 L126.25,229.67 L126.60,229.16 L126.91,228.63 L126.74,227.98 L126.86,227.41 L127.34,226.93 L127.24,226.30 L127.54,225.77 L127.32,225.11 L127.63,224.58 L127.66,223.99 L128.06,223.49 L127.89,222.85 L128.48,222.40 L128.13,221.72 L128.64,221.24 L128.40,220.59 L128.66,220.05 L129.09,219.56 L128.87,218.91 L129.02,218.35 L129.43,217.85 L129.40,217.25 L129.35,216.64 L130.00,216.19 L129.67,215.52 L129.74,214.93 L130.03,214.40 L130.31,213.86 L130.51,213.31 L130.29,212.66 L130.55,212.12 L130.51,211.51 L130.87,210.99 L131.17,210.46 L131.29,209.88 L131.51,209.33 L131.55,208.74 L131.74,208.19 L131.79,207.60 L131.78,207.00 L131.80,206.38 L132.20,205.87 L132.16,205.24 L132.19,204.63 L132.54,204.11 L132.93,203.59 L132.67,202.91 L133.08,202.40 L133.12,201.79 L133.35,201.23 L133.29,200.60 L133.91,200.15 L133.66,199.46 L134.01,198.94 L134.06,198.33 L133.98,197.70 L134.45,197.20 L134.36,196.56 L134.47,195.97 L134.61,195.39 L134.83,194.83 L134.94,194.24 L135.42,193.75 L135.50,193.16 L135.95,192.66 L136.08,192.07 L136.27,191.50 L135.90,190.79 L136.19,190.24 L136.19,189.62 L136.57,189.10 L136.74,188.52 L137.02,187.97 L137.09,187.37 L136.89,186.70 L137.16,186.15 L137.38,185.59 L137.09,184.93 L137.23,184.31 L137.65,183.74 L137.51,183.07 L138.14,182.53 L137.84,181.83 L137.82,181.19 L138.00,180.57 L138.16,179.94 L138.29,179.34 L138.72,178.80 L138.82,178.19 L138.82,177.56 L139.29,177.03 L139.02,176.33 L139.85,175.90 L140.06,175.32 L139.98,174.66 L139.83,173.98 L140.06,173.40 L140.29,172.82 L139.87,172.08 L140.41,171.58 L140.68,171.01 L140.45,170.30 L140.51,169.71 L141.46,169.38 L141.13,168.68 L141.46,168.17 L142.09,167.74 L141.89,167.08 L141.67,166.41 L142.67,166.09 L142.08,165.32 L141.80,164.63 L142.79,164.31 L142.21,163.54 L142.63,163.05 L143.48,162.69 L143.42,162.07 L142.75,161.23 L143.50,160.87 L143.63,160.30 L143.92,159.78 L143.72,159.10 L144.43,158.72 L143.89,157.92 L144.37,157.47 L144.68,156.95 L145.68,156.67 L144.61,155.70 L145.80,155.48 L145.15,154.62 L145.93,154.30 L145.87,153.64 L146.20,153.14 L146.87,152.78 L146.53,152.01 L146.31,151.29 L146.52,150.74 L146.66,150.16 L148.14,150.12 L148.02,149.44 L148.75,149.17 L148.57,148.44 L147.72,147.38 L149.04,147.39 L149.50,146.98 L149.67,146.42 L149.54,145.71 L149.67,144.95 L150.36,144.82 L151.27,145.13 L151.39,143.89 L152.23,144.04 L152.65,143.60 L153.71,144.01 L154.01,143.41 L154.64,143.25 L155.08,142.68 L154.71,141.51 L155.02,141.02 L155.78,140.98 L155.86,140.26 L156.50,140.10 L157.25,140.05 L158.04,139.94 L158.02,139.02 L158.80,138.90 L159.52,137.64 L159.31,138.39 L158.42,139.47 L160.20,139.23 L159.98,139.98 L160.86,140.18 L161.08,140.72 L160.04,142.16 L160.31,142.69 L161.19,142.61 L161.10,142.54 L161.62,142.12 L161.70,141.54 L162.72,141.32 L162.94,140.79 L162.69,140.09 L163.04,139.62 L162.47,138.79 L163.48,138.56 L164.14,138.72 L164.39,138.05 L164.08,136.63 L165.06,136.95 L165.78,136.90 L165.78,135.77 L166.95,136.61 L167.17,135.53 L167.98,135.66 L168.49,134.83 L168.56,136.19 L169.35,136.11 L170.13,136.03 L170.23,135.77 L171.07,135.65 L170.77,134.68 L172.03,134.87 L172.85,134.74 L172.09,133.42 L172.98,133.33 L173.29,132.82 L173.53,132.25 L174.38,132.13 L174.68,132.23 L175.13,131.59 L175.58,130.95 L176.71,131.57 L176.46,130.22 L177.37,130.61 L177.73,130.16 L178.31,130.02 L178.90,129.80 L178.63,128.44 L179.59,128.71 L179.80,128.00 L180.10,127.95 L179.80,128.74 L180.67,128.95 L182.05,128.91 L181.49,129.83 L181.31,130.56 L181.26,131.23 L182.29,131.68 L183.00,131.80 L183.09,130.08 L184.28,131.64 L184.75,131.04 L185.27,130.60 L185.23,130.77 L185.71,131.19 L187.27,130.53 L186.70,132.00 L187.73,132.52 L188.05,131.27 L188.92,132.17 L189.44,131.72 L189.52,131.01 L190.88,131.28 L190.23,129.95 L191.38,130.04 L191.50,129.32 L191.62,128.59 L192.31,128.49 L192.85,128.75 L193.62,128.78 L192.94,130.26 L194.60,129.40 L195.10,129.70 L194.82,130.78 L194.72,131.68 L195.85,131.79 L196.35,131.45 L196.26,130.67 L196.91,130.44 L196.71,129.57 L196.94,129.03 L197.66,128.86 L197.09,128.14 L197.34,127.61 L198.82,127.42 L197.83,126.53 L199.14,126.30 L199.38,125.77 L198.76,124.98 L199.48,124.58 L199.88,124.09 L200.21,123.58 L200.30,122.38 L200.56,122.91 L200.43,123.66 L200.57,124.26 L201.22,124.55 L202.13,124.68 L201.28,125.87 L200.69,126.91 L201.76,126.56 L202.47,126.47 L202.58,125.78 L203.09,125.49 L204.33,125.93 L203.61,124.41 L204.77,124.62 L204.66,123.88 L205.10,123.46 L206.37,123.54 L204.51,121.75 L206.74,122.40 L205.70,121.10 L206.88,121.13 L207.56,120.86 L207.50,120.14 L207.12,119.23 L208.58,119.43 L206.95,117.77 L208.65,118.11 L208.32,117.23 L208.98,116.95 L210.15,116.87 L210.27,116.27 L210.08,115.51 L209.48,114.54 L209.54,113.90 L210.42,113.68 L210.07,112.84 L210.46,112.36 L212.58,112.75 L210.59,110.99 L212.73,111.60 L211.89,110.41 L212.15,109.89 L212.33,109.32 L212.00,108.44 L213.29,108.53 L212.83,107.58 L214.06,107.43 L214.80,107.20 L214.82,109.14 L215.39,109.42 L216.34,108.23 L217.14,108.61 L218.02,109.25 L218.03,107.29 L218.12,106.57 L218.83,106.61 L219.23,106.16 L220.55,107.10 L220.50,106.00 L221.45,105.63 L221.17,107.08 L222.62,105.95 L222.11,107.76 L222.89,107.62 L223.77,107.34 L223.52,108.76 L224.83,107.83 L224.39,109.54 L224.78,109.98 L226.00,109.21 L226.81,109.37 L227.74,109.73 L227.86,108.87 L228.36,108.57 L229.22,108.42 L229.77,108.17 L229.76,107.36 L230.66,107.46 L229.54,105.54 L230.67,105.87 L231.30,105.40 L230.64,104.47 L230.95,103.93 L230.53,103.11 L233.05,103.45 L231.52,102.17 L232.10,101.74 L231.37,101.89 L233.54,101.13 L231.83,102.97 L234.34,101.99 L234.92,102.29 L233.85,103.15 L234.46,102.98 L235.62,104.46 L236.18,104.15 L236.66,103.59 L236.94,102.41 L237.64,102.53 L237.93,101.40 L239.46,102.84 L239.04,101.37 L239.29,100.74 L240.45,101.28 L239.91,99.65 L240.69,99.71 L242.48,101.06 L241.77,98.02 L242.43,98.04 L243.10,98.13 L243.76,98.17 L244.51,98.76 L245.03,97.89 L245.73,98.18 L246.29,97.59 L246.92,97.42 L247.85,99.16 L248.06,97.72 L248.74,97.63 L250.15,99.26 L249.29,95.63 L250.06,95.76 L251.17,99.01 L252.03,96.91 L252.38,98.78 L253.38,95.52 L253.71,97.61 L254.09,99.35 L255.00,96.80 L255.30,99.09 L255.98,98.35 L256.70,97.31 L256.90,100.49 L258.07,97.51 L258.40,98.18 L258.56,99.14 L259.87,98.07 L259.07,100.73 L260.22,99.94 L260.78,100.20 L261.43,100.27 L260.83,102.60 L261.35,102.92 L262.26,102.54 L263.78,101.09 L264.42,101.20 L264.67,102.01 L266.42,100.14 L266.80,100.72 L265.07,105.04 L267.81,101.41 L266.28,105.38 L267.48,104.51 L267.41,105.88 L270.08,102.38 L270.03,103.72 L269.31,106.25 L271.22,102.72 L271.68,103.36 L271.95,104.74 L272.76,103.99 L273.37,104.00 L273.29,106.78 L274.61,104.01 L274.08,108.60 L275.07,107.12 L276.40,104.24 L275.92,108.67 L276.75,105.48 L277.56,106.60 L278.22,106.88 L278.40,104.63 L279.33,106.37 L279.49,104.01 L280.20,104.61 L281.47,108.18 L281.96,107.57 L282.26,105.94 L282.99,106.64 L283.28,107.55 L284.10,103.77 L284.57,105.63 L285.26,103.80 L285.85,103.76 L286.44,103.75 L286.98,104.32 L287.62,103.54 L288.15,104.41 L288.68,105.30 L289.18,106.60 L289.05,107.71 L289.49,108.16 L290.41,107.50 L291.39,106.73 L291.06,108.92 L293.17,105.56 L293.82,105.52 L292.87,109.15 L293.80,108.47 L295.20,106.72 L295.39,107.75 L296.09,107.60 L296.28,108.45 L296.86,108.56 L297.48,108.54 L297.61,110.69 L298.18,110.89 L299.04,109.75 L299.72,109.43 L300.51,108.60 L300.56,111.17 L300.90,112.42 L302.32,108.70 L301.93,111.01 L302.40,111.38 L302.99,111.59 L305.53,109.46 L304.26,111.92 L305.87,110.90 L306.36,111.25 L305.54,113.17 L305.78,113.81 L306.30,114.11 L306.37,114.96 L306.96,115.18 L308.17,114.64 L310.04,113.31 L308.21,116.67 L308.56,117.23 L309.01,117.61 L310.19,116.92 L312.31,114.83 L312.34,115.84 L313.09,115.79 L312.05,118.40 L312.81,118.34 L314.34,117.12 L312.60,120.78 L313.03,121.20 L313.75,121.19 L315.53,119.67 L316.60,119.47 L317.33,119.60 L315.48,122.28 L316.36,122.27 L318.36,121.15 L316.47,123.87 L318.13,123.08 L319.14,122.95 L319.55,123.39 L318.85,124.94 L320.26,124.40 L319.93,125.58 L322.35,124.05 L320.62,126.60 L322.42,125.29 L321.20,128.44 L323.61,125.67 L323.80,126.51 L323.76,127.74 L324.68,127.41 L324.83,128.31 L324.27,130.40 L326.75,127.51 L325.71,130.36 L326.44,130.32 L326.71,131.05 L328.07,129.84 L328.62,130.01 L329.31,129.60 L329.71,130.39 L330.55,129.42 L331.19,129.24 L331.39,130.82 L332.31,129.53 L332.52,131.07 L332.95,131.73 L334.14,130.67 L335.02,130.38 L334.28,132.59 L334.05,134.03 L336.35,131.56 L335.73,133.60 L336.10,134.10 L335.95,135.41 L337.01,134.84 L338.56,133.53 L339.29,133.47 L338.11,136.30 L339.99,134.60 L341.12,134.00 L339.66,137.19 L341.57,135.43 L341.80,136.15 L342.25,136.54 L342.81,136.76 L342.59,138.14 L343.64,137.72 L343.90,138.27 L344.34,138.61 L344.33,139.47 L345.47,138.98 L345.42,139.81 L345.89,140.35 L345.92,140.94 L345.59,141.56 L345.83,142.12 L346.11,142.68 L345.79,143.31 L345.63,143.91 L345.88,144.48 L346.03,145.05 L345.90,145.65 L345.89,146.24 L346.39,146.71 L346.59,147.31 L346.51,148.04 L346.81,148.59 L347.48,148.96 L347.49,149.65 L347.68,150.26 L348.11,150.74 L348.33,151.33 L348.71,151.85 L349.14,152.33 L349.43,152.88 L349.80,153.40 L349.75,154.12 L350.31,154.54 L350.33,155.23 L350.74,155.73 L350.99,156.30 L350.99,157.01 L351.58,157.41 L351.81,157.99 L352.14,158.49 L352.51,158.96 L352.79,159.48 L352.90,160.09 L353.03,160.69 L353.69,161.03 L353.50,161.80 L353.91,162.26 L354.52,162.63 L354.44,163.35 L354.87,163.80 L355.08,164.37 L355.57,164.80 L355.62,165.45 L355.88,165.99 L356.01,166.60 L356.39,167.08 L356.70,167.60" fill="none" stroke="#c2ecc6" stroke-width="2.1" stroke-linejoin="round" stroke-linecap="butt"/><path d="M386.80,42.71 L387.09,43.00 L387.60,43.17 L387.84,43.49 L388.39,43.62 L388.56,43.97 L388.98,44.17 L389.13,44.52 L389.44,44.79 L389.60,45.14 L389.96,45.38 L390.22,45.67 L390.40,45.86 L390.74,46.12 L391.08,46.37 L391.36,46.67 L391.48,47.07 L391.77,47.36 L392.18,47.57 L392.39,47.91 L392.74,48.16 L392.86,48.46 L393.15,48.73 L393.40,49.02 L393.76,49.24 L394.14,49.43 L394.30,49.80 L394.49,50.13 L394.57,50.55 L394.80,51.08 L394.99,51.42 L395.17,51.76 L395.55,51.98 L395.78,52.28 L396.02,52.59 L396.04,53.03 L396.00,54.08 L395.85,54.55 L395.77,55.01 L395.85,55.42 L395.85,55.85 L395.77,56.31 L395.78,56.90 L395.83,57.26 L396.01,57.61 L395.97,57.97 L395.95,58.34 L394.32,58.52 L394.26,58.16 L394.33,57.79 L394.20,57.44 L393.96,57.10 L393.47,56.98 L393.25,56.61 L393.08,56.23 L392.94,55.84 L392.67,55.48 L392.35,55.14 L392.06,55.45 L391.76,55.18 L391.51,54.89 L391.20,54.62 L390.95,54.32 L390.63,54.07 L390.59,53.64 L390.45,53.52 L390.32,53.13 L390.02,52.88 L389.87,52.51 L389.77,52.11 L389.58,51.77 L389.44,51.40 L389.08,51.18 L388.84,50.76 L388.59,50.45 L388.56,49.98 L388.42,49.59 L388.19,49.27 L387.95,48.95 L387.73,48.61 L387.56,48.24 L387.40,47.87 L387.19,47.39 L387.15,46.97 L387.10,46.56 L387.02,46.16 L387.04,45.71 L386.89,45.35 L386.78,44.97 L386.53,44.68 L386.50,44.26 L386.60,43.75 L386.56,43.31 L386.48,42.90 Z" fill="#e8003c" stroke="none"/><path d="M378.91,24.60 L379.02,25.30 L379.20,25.99 L379.61,26.62 L379.85,27.29 L379.88,28.01 L380.11,28.69 L380.06,29.43 L380.26,30.05 L380.45,30.68 L380.62,31.31 L380.73,31.95 L381.11,32.53 L381.12,33.18 L381.69,33.56 L381.91,34.29 L382.69,34.46 L382.85,35.17 L383.51,35.69 L383.51,36.50 L383.98,37.10 L384.25,37.80 L384.33,38.58 L385.03,38.96 L385.29,39.55 L385.12,40.35 L385.62,40.82 L386.11,41.28 L385.97,42.17 L386.30,42.78 L387.25,43.03 L387.37,43.76 L387.99,44.20 L388.17,44.89 L388.19,45.67 L389.01,46.00 L388.80,46.93 L389.85,47.10 L390.13,47.78 L389.88,48.81 L390.70,49.13 L391.08,49.74 L391.36,50.49 L391.92,51.03 L392.46,51.59 L393.28,52.01 L392.92,53.02 L393.02,53.74 L393.36,54.32 L394.03,54.65 L394.51,55.16 L394.67,55.76 L394.57,56.44 L394.77,57.01 L395.24,57.57 L395.21,58.18 L395.10,58.80" fill="none" stroke="#e8003c" stroke-width="2.1" stroke-linejoin="round" stroke-linecap="butt"/><path d="M261.57,87.13 L262.12,87.50 L263.03,86.07 L263.66,86.08 L264.14,86.79 L265.37,87.85 L266.17,87.50 L267.27,86.56 L268.30,85.75 L268.94,85.72 L269.08,86.70 L268.44,86.68 L268.79,87.80 L269.60,87.16 L270.10,87.69 L271.16,86.15 L269.83,87.87 L270.47,89.03 L271.14,90.95 L271.71,90.04 L272.25,88.38 L272.62,87.10 L273.20,86.78 L273.81,86.93 L274.51,88.34 L275.09,88.00 L275.70,88.05 L276.28,87.70 L276.84,87.09 L277.56,88.85 L278.10,87.96 L278.65,88.93 L279.12,87.51 L279.72,87.52 L280.24,86.62 L280.77,85.85 L282.00,86.64 L282.60,86.76 L283.20,88.49 L283.80,86.96 L284.40,88.67 L285.32,88.95 L285.79,90.28 L286.44,89.86 L287.11,89.19 L287.71,89.19 L289.34,87.94 L290.01,87.89 L290.54,88.28 L291.09,88.64 L291.39,89.82 L292.05,90.16 L292.49,90.83 L293.50,89.79 L294.43,89.02 L295.04,89.17 L295.18,90.77 L295.83,90.82 L296.69,90.23 L297.96,88.43 L298.31,89.37 L298.20,91.70 L298.50,92.80 L299.27,92.49 L300.19,91.72 L300.61,92.47 L301.53,92.12 L302.09,92.47 L302.84,92.27 L303.12,93.37 L304.06,92.65 L305.56,92.28 L306.35,91.95 L306.07,93.76 L306.39,94.38 L306.63,95.15 L307.77,94.10 L308.66,93.91 L309.74,93.09 L309.69,94.40 L309.45,96.05 L309.61,96.95 L310.25,96.95 L311.03,97.11 L310.91,98.46 L311.08,99.31 L311.90,99.07 L312.29,99.55 L312.79,99.86 L312.93,100.45 L313.54,100.48 L314.53,99.74 L315.25,99.55 L316.42,98.47 L316.51,99.52 L318.12,99.90 L318.88,99.97 L319.49,100.24 L319.09,101.76 L318.99,102.91 L319.45,103.37 L319.91,101.80 L320.72,101.58 L321.82,100.66 L322.08,101.71 L322.76,101.78 L324.04,101.80 L324.63,101.90 L324.33,103.66 L323.83,105.81 L323.88,106.92 L324.84,106.32 L326.24,105.14 L326.50,105.85 L326.95,106.23 L326.90,107.48 L328.47,105.88 L329.33,105.52 L328.73,105.60 L328.77,107.50 L328.87,109.18 L329.65,108.85 L330.52,108.24 L332.27,108.21 L332.44,109.05 L333.07,109.17 L333.61,109.42 L334.80,108.64 L334.71,109.89 L336.05,109.35 L335.98,110.51 L336.21,111.25 L336.67,111.65 L337.27,111.86 L338.16,111.64 L337.63,113.68 L338.12,114.07 L339.14,113.77 L340.25,113.36 L340.20,114.46 L339.76,116.08 L340.66,116.02 L342.40,114.88 L344.06,113.83 L344.67,114.09 L344.61,115.19 L344.99,115.73 L344.51,117.99 L344.55,118.80 L344.96,119.25 L345.89,119.19 L346.81,119.11 L346.59,120.19 L347.50,120.14 L348.98,121.51 L349.80,121.79 L349.64,122.57 L348.68,123.74 L348.09,124.73 L348.96,124.99 L349.13,125.60 L348.63,126.55 L347.28,127.91 L347.29,128.60 L349.27,128.30 L350.09,128.57 L351.75,128.42 L350.33,129.81 L351.08,130.12 L349.88,131.40 L351.10,131.47 L350.16,132.63 L351.14,132.82 L351.68,133.23 L352.36,133.44 L352.46,134.04 L351.81,134.41 L351.98,133.65 L350.58,133.78 L350.06,133.36 L349.01,133.20 L348.83,132.61 L347.15,132.76 L347.00,132.16 L347.00,131.48 L346.11,131.24 L346.35,130.44 L346.76,129.55 L346.97,128.77 L345.38,128.86 L344.30,128.71 L345.20,127.56 L346.12,126.41 L346.21,125.67 L345.51,125.33 L343.84,125.47 L342.95,125.22 L342.82,124.59 L343.81,123.84 L342.71,124.08 L341.31,124.62 L340.46,124.61 L340.87,123.34 L340.99,122.37 L340.45,122.05 L339.43,122.68 L338.59,122.71 L337.63,122.88 L337.37,122.19 L336.34,122.45 L336.64,121.05 L336.77,119.97 L336.33,119.52 L334.83,120.43 L333.30,121.40 L333.74,119.79 L333.45,119.13 L334.25,117.23 L332.66,118.45 L331.68,118.78 L330.05,120.04 L329.64,119.57 L330.05,117.91 L330.09,117.18 L330.07,116.11 L329.60,115.75 L329.71,114.48 L329.03,114.44 L327.72,115.41 L327.50,117.29 L327.19,116.22 L326.93,115.02 L326.25,115.05 L325.42,115.55 L324.10,114.75 L324.52,112.84 L323.92,112.74 L323.76,111.85 L323.10,111.86 L322.42,111.89 L321.33,112.90 L321.05,112.22 L320.77,111.55 L320.92,110.07 L319.68,111.17 L318.71,111.80 L317.73,113.40 L317.75,111.71 L317.13,111.50 L317.10,109.91 L316.28,110.16 L315.64,108.12 L315.16,107.70 L314.65,107.31 L313.81,107.33 L312.93,107.41 L312.16,107.35 L312.13,108.29 L311.69,107.92 L311.39,107.28 L311.24,106.31 L310.93,105.69 L310.01,106.28 L309.74,104.93 L308.47,105.92 L308.48,104.76 L307.78,104.80 L307.15,104.71 L306.64,104.43 L305.95,105.01 L305.79,104.11 L305.21,104.00 L305.23,102.75 L304.66,102.61 L303.48,103.62 L303.21,103.23 L302.96,102.48 L302.68,101.78 L301.31,103.28 L300.98,102.69 L301.17,101.06 L301.30,100.17 L300.83,99.60 L299.98,100.07 L299.57,99.32 L298.84,99.46 L298.62,98.44 L297.52,99.74 L296.44,100.99 L295.23,102.60 L294.91,101.57 L294.74,100.09 L294.07,100.09 L293.74,99.08 L292.92,99.53 L292.48,98.85 L291.43,100.01 L290.84,99.78 L290.20,99.71 L289.77,98.99 L289.09,99.04 L288.57,99.21 L287.91,99.23 L287.50,98.41 L287.18,97.31 L287.00,95.72 L286.95,96.88 L286.31,97.18 L285.62,98.05 L285.15,96.65 L284.64,95.67 L284.40,95.61 L283.80,96.40 L283.20,97.76 L282.60,98.34 L282.00,97.23 L281.82,96.37 L281.07,94.91 L280.46,94.92 L279.86,94.90 L279.34,95.75 L278.67,96.48 L278.08,96.62 L277.52,97.25 L276.84,96.14 L276.27,96.59 L275.64,96.17 L275.15,97.94 L274.58,98.43 L273.92,97.59 L273.22,96.04 L272.45,94.42 L271.92,96.58 L271.34,97.17 L270.76,97.77 L270.16,97.75 L267.85,98.55 L267.43,97.73 L267.08,96.63 L266.65,95.82 L265.67,97.09 L264.45,95.95 L263.49,96.62 L262.95,96.44 L262.25,96.61 L262.13,95.59 L262.29,94.02 L262.45,95.23 L261.90,94.84 L261.21,95.17 L261.01,93.09 L260.34,93.30 Z" fill="#808080" stroke="none"/><path d="M261.04,89.81 L261.54,90.40 L261.74,92.53 L262.84,90.15 L263.39,90.53 L263.75,91.10 L265.40,89.04 L264.97,91.17 L265.13,92.09 L265.16,93.28 L267.66,89.53 L267.32,90.88 L268.28,89.73 L267.69,94.33 L268.48,93.78 L270.16,89.91 L270.10,95.98 L270.70,95.85 L271.23,93.84 L271.82,93.58 L272.33,90.63 L272.79,89.70 L273.61,92.94 L274.01,89.91 L274.67,90.70 L275.29,90.99 L275.80,89.60 L276.58,92.33 L277.17,92.14 L277.95,94.67 L278.41,92.56 L279.09,93.29 L279.60,92.34 L280.30,93.31 L280.77,91.95 L281.26,90.75 L282.00,95.28 L282.60,95.27 L283.20,94.28 L283.80,93.43 L284.40,90.92 L285.17,90.38 L285.73,90.82 L286.47,89.48 L286.63,93.98 L287.46,91.71 L287.36,94.52 L288.81,91.88 L288.36,95.57 L289.16,95.07 L291.32,90.06 L291.59,91.54 L290.77,95.99 L292.26,93.52 L291.83,96.82 L293.61,93.48 L294.86,91.71 L294.34,95.29 L294.64,96.39 L296.27,93.50 L297.24,92.59 L297.34,94.28 L296.66,98.32 L297.68,97.27 L299.57,93.58 L299.91,94.56 L300.88,93.90 L301.57,93.88 L300.55,98.52 L302.51,95.02 L302.27,97.54 L303.15,97.10 L304.39,95.88 L303.34,99.23 L305.56,96.04 L304.59,99.22 L306.60,96.45 L306.24,98.45 L307.36,97.55 L307.69,98.13 L306.08,102.36 L307.09,101.68 L309.09,99.13 L307.73,102.61 L310.45,99.21 L310.35,100.52 L309.33,103.34 L310.53,102.48 L312.82,99.81 L310.60,105.10 L313.32,100.91 L313.69,101.42 L312.72,104.61 L314.49,102.32 L315.08,102.38 L316.71,101.67 L317.14,102.15 L315.67,105.01 L317.53,103.72 L316.60,105.91 L318.01,105.16 L318.12,105.93 L317.43,109.16 L319.24,106.62 L319.61,107.42 L319.47,109.39 L321.96,105.71 L322.54,105.81 L320.77,110.34 L321.54,110.09 L323.75,107.15 L324.43,107.08 L323.24,110.43 L323.11,111.84 L325.96,107.98 L324.08,112.46 L324.79,112.36 L326.17,111.09 L327.16,110.32 L328.40,108.59 L329.13,108.40 L327.86,114.21 L329.93,110.01 L329.30,112.91 L331.33,110.80 L329.89,114.18 L331.17,113.27 L332.71,111.95 L333.61,111.63 L332.19,114.86 L335.08,111.79 L335.00,112.98 L334.28,115.06 L333.71,116.95 L335.08,116.05 L336.86,114.68 L334.87,118.30 L338.15,115.06 L339.38,114.49 L338.90,116.16 L338.71,117.44 L340.76,115.90 L340.79,116.88 L340.52,118.24 L340.22,119.65 L342.38,117.97 L342.00,119.48 L340.45,122.05 L340.58,122.77 L342.27,121.94 L342.60,122.47 L343.42,122.51 L345.35,121.44 L346.07,121.57 L346.90,122.55 L343.73,124.83 L344.83,124.97 L344.24,125.96 L347.68,124.94 L345.97,126.49 L346.72,126.81 L346.30,127.71 L347.69,127.71 L346.28,129.11 L348.74,128.56 L347.95,129.64 L347.86,130.36 L347.90,131.03 L348.50,131.41 L348.86,131.91 L349.08,132.49 L349.29,133.06 L350.07,133.35 L350.10,134.02 L350.24,134.65 L350.55,135.13 L351.12,135.47 L351.19,136.10 L351.44,136.61 L351.89,137.02 L352.15,137.54 L352.57,137.98 L352.63,138.59 L352.79,139.17 L353.27,139.65 L353.12,140.32 L353.09,140.96 L353.33,141.52 L353.59,142.06 L353.96,142.58 L353.98,143.21 L354.27,143.74 L354.56,144.27 L354.55,144.91 L355.18,145.31 L355.02,146.01 L355.63,146.42 L355.52,147.10 L355.80,147.64 L356.15,148.14 L356.12,148.79 L356.46,149.28 L356.63,149.85 L356.69,150.46 L357.28,150.84 L357.65,151.33 L357.72,151.93 L357.74,152.56 L358.23,152.99 L358.30,153.60" fill="none" stroke="#808080" stroke-width="2.1" stroke-linejoin="round" stroke-linecap="butt"/></g><line x1="30.65" y1="71.4" x2="457.75" y2="71.4" stroke="#000" stroke-width="1.11"/><line x1="372" y1="5.69" x2="372" y2="430.33" stroke="#000" stroke-width="1.11"/><line x1="31.20" y1="71.4" x2="31.20" y2="66.54" stroke="#000" stroke-width="1.11"/><line x1="52.50" y1="71.4" x2="52.50" y2="68.62" stroke="#000" stroke-width="0.83"/><line x1="73.80" y1="71.4" x2="73.80" y2="66.54" stroke="#000" stroke-width="1.11"/><line x1="95.10" y1="71.4" x2="95.10" y2="68.62" stroke="#000" stroke-width="0.83"/><line x1="116.40" y1="71.4" x2="116.40" y2="66.54" stroke="#000" stroke-width="1.11"/><line x1="137.70" y1="71.4" x2="137.70" y2="68.62" stroke="#000" stroke-width="0.83"/><line x1="159.00" y1="71.4" x2="159.00" y2="66.54" stroke="#000" stroke-width="1.11"/><line x1="180.30" y1="71.4" x2="180.30" y2="68.62" stroke="#000" stroke-width="0.83"/><line x1="201.60" y1="71.4" x2="201.60" y2="66.54" stroke="#000" stroke-width="1.11"/><line x1="222.90" y1="71.4" x2="222.90" y2="68.62" stroke="#000" stroke-width="0.83"/><line x1="244.20" y1="71.4" x2="244.20" y2="66.54" stroke="#000" stroke-width="1.11"/><line x1="265.50" y1="71.4" x2="265.50" y2="68.62" stroke="#000" stroke-width="0.83"/><line x1="286.80" y1="71.4" x2="286.80" y2="66.54" stroke="#000" stroke-width="1.11"/><line x1="308.10" y1="71.4" x2="308.10" y2="68.62" stroke="#000" stroke-width="0.83"/><line x1="329.40" y1="71.4" x2="329.40" y2="66.54" stroke="#000" stroke-width="1.11"/><line x1="350.70" y1="71.4" x2="350.70" y2="68.62" stroke="#000" stroke-width="0.83"/><line x1="372.00" y1="71.4" x2="372.00" y2="68.62" stroke="#000" stroke-width="0.83"/><line x1="393.30" y1="71.4" x2="393.30" y2="68.62" stroke="#000" stroke-width="0.83"/><line x1="414.60" y1="71.4" x2="414.60" y2="68.62" stroke="#000" stroke-width="0.83"/><line x1="435.90" y1="71.4" x2="435.90" y2="68.62" stroke="#000" stroke-width="0.83"/><line x1="457.20" y1="71.4" x2="457.20" y2="68.62" stroke="#000" stroke-width="0.83"/><line x1="372" y1="6.24" x2="374.78" y2="6.24" stroke="#000" stroke-width="0.83"/><line x1="372" y1="38.82" x2="374.78" y2="38.82" stroke="#000" stroke-width="0.83"/><line x1="372" y1="71.40" x2="374.78" y2="71.40" stroke="#000" stroke-width="0.83"/><line x1="372" y1="103.98" x2="376.86" y2="103.98" stroke="#000" stroke-width="1.11"/><line x1="372" y1="136.56" x2="374.78" y2="136.56" stroke="#000" stroke-width="0.83"/><line x1="372" y1="169.14" x2="376.86" y2="169.14" stroke="#000" stroke-width="1.11"/><line x1="372" y1="201.72" x2="374.78" y2="201.72" stroke="#000" stroke-width="0.83"/><line x1="372" y1="234.30" x2="376.86" y2="234.30" stroke="#000" stroke-width="1.11"/><line x1="372" y1="266.88" x2="374.78" y2="266.88" stroke="#000" stroke-width="0.83"/><line x1="372" y1="299.46" x2="376.86" y2="299.46" stroke="#000" stroke-width="1.11"/><line x1="372" y1="332.04" x2="374.78" y2="332.04" stroke="#000" stroke-width="0.83"/><line x1="372" y1="364.62" x2="376.86" y2="364.62" stroke="#000" stroke-width="1.11"/><line x1="372" y1="397.20" x2="374.78" y2="397.20" stroke="#000" stroke-width="0.83"/><line x1="372" y1="429.78" x2="376.86" y2="429.78" stroke="#000" stroke-width="1.11"/><text x="31.20" y="61.7" font-size="13.9" text-anchor="middle" textLength="39.5" lengthAdjust="spacingAndGlyphs" font-family="Liberation Sans, sans-serif">−20.0</text><text x="73.80" y="61.7" font-size="13.9" text-anchor="middle" textLength="39.5" lengthAdjust="spacingAndGlyphs" font-family="Liberation Sans, sans-serif">−17.5</text><text x="116.40" y="61.7" font-size="13.9" text-anchor="middle" textLength="39.5" lengthAdjust="spacingAndGlyphs" font-family="Liberation Sans, sans-serif">−15.0</text><text x="159.00" y="61.7" font-size="13.9" text-anchor="middle" textLength="39.5" lengthAdjust="spacingAndGlyphs" font-family="Liberation Sans, sans-serif">−12.5</text><text x="201.60" y="61.7" font-size="13.9" text-anchor="middle" textLength="39.5" lengthAdjust="spacingAndGlyphs" font-family="Liberation Sans, sans-serif">−10.0</text><text x="244.20" y="61.7" font-size="13.9" text-anchor="middle" textLength="30.8" lengthAdjust="spacingAndGlyphs" font-family="Liberation Sans, sans-serif">−7.5</text><text x="286.80" y="61.7" font-size="13.9" text-anchor="middle" textLength="30.8" lengthAdjust="spacingAndGlyphs" font-family="Liberation Sans, sans-serif">−5.0</text><text x="329.40" y="61.7" font-size="13.9" text-anchor="middle" textLength="30.8" lengthAdjust="spacingAndGlyphs" font-family="Liberation Sans, sans-serif">−2.5</text><text x="385.0" y="109.58" font-size="13.9" textLength="19.0" lengthAdjust="spacingAndGlyphs" font-family="Liberation Sans, sans-serif">−2</text><text x="385.0" y="174.74" font-size="13.9" textLength="19.0" lengthAdjust="spacingAndGlyphs" font-family="Liberation Sans, sans-serif">−6</text><text x="385.0" y="239.90" font-size="13.9" textLength="26.6" lengthAdjust="spacingAndGlyphs" font-family="Liberation Sans, sans-serif">−10</text><text x="385.0" y="305.06" font-size="13.9" textLength="26.6" lengthAdjust="spacingAndGlyphs" font-family="Liberation Sans, sans-serif">−14</text><text x="385.0" y="370.22" font-size="13.9" textLength="26.6" lengthAdjust="spacingAndGlyphs" font-family="Liberation Sans, sans-serif">−18</text><text x="385.0" y="435.38" font-size="13.9" textLength="26.6" lengthAdjust="spacingAndGlyphs" font-family="Liberation Sans, sans-serif">−22</text><text x="30.6" y="40.0" font-size="14.0" textLength="283.0" lengthAdjust="spacingAndGlyphs" font-family="Liberation Sans, sans-serif">Global sea-surface temperature change (°C)</text><text transform="translate(431.6,325.60) rotate(-90)" x="0" y="0" font-size="14.0" textLength="28.00" lengthAdjust="spacingAndGlyphs" font-family="Liberation Sans, sans-serif">TOA</text><text transform="translate(431.6,293.60) rotate(-90)" x="0" y="0" font-size="14.0" textLength="59.80" lengthAdjust="spacingAndGlyphs" font-family="Liberation Sans, sans-serif">radiative</text><text transform="translate(431.6,231.60) rotate(-90)" x="0" y="0" font-size="14.0" textLength="68.40" lengthAdjust="spacingAndGlyphs" font-family="Liberation Sans, sans-serif">imbalance</text><text transform="translate(431.6,160.80) rotate(-90)" x="0" y="0" font-size="14.0" textLength="50.20" lengthAdjust="spacingAndGlyphs" font-family="Liberation Sans, sans-serif">(Wm<tspan dy="-5.8" font-size="10.4">−2</tspan><tspan dy="5.8">)</tspan></text><rect x="6.05" y="453.8" width="487.95" height="60.7" rx="2.8" ry="2.8" fill="#fff" stroke="#cccccc" stroke-width="1.3"/><line x1="10.2" y1="464.0" x2="37.9" y2="464.0" stroke="#5c0a3d" stroke-width="2.1"/><text x="46.3" y="469.1" font-size="13.8" textLength="80.3" lengthAdjust="spacingAndGlyphs" font-family="Liberation Sans, sans-serif">1/2048xCO2</text><line x1="10.2" y1="483.2" x2="37.9" y2="483.2" stroke="#8c0a8c" stroke-width="2.1"/><text x="46.3" y="488.3" font-size="13.8" textLength="80.3" lengthAdjust="spacingAndGlyphs" font-family="Liberation Sans, sans-serif">1/1024xCO2</text><line x1="10.2" y1="502.2" x2="37.9" y2="502.2" stroke="#b40ab4" stroke-width="2.1"/><text x="46.3" y="507.3" font-size="13.8" textLength="72.8" lengthAdjust="spacingAndGlyphs" font-family="Liberation Sans, sans-serif">1/512xCO2</text><line x1="151.0" y1="464.0" x2="178.3" y2="464.0" stroke="#7200d8" stroke-width="2.1"/><text x="187.2" y="469.1" font-size="13.8" textLength="72.3" lengthAdjust="spacingAndGlyphs" font-family="Liberation Sans, sans-serif">1/256xCO2</text><line x1="151.0" y1="483.2" x2="178.3" y2="483.2" stroke="#3c00f0" stroke-width="2.1"/><text x="187.2" y="488.3" font-size="13.8" textLength="72.3" lengthAdjust="spacingAndGlyphs" font-family="Liberation Sans, sans-serif">1/128xCO2</text><line x1="151.0" y1="502.2" x2="178.3" y2="502.2" stroke="#3c7af0" stroke-width="2.1"/><text x="187.2" y="507.3" font-size="13.8" textLength="64.4" lengthAdjust="spacingAndGlyphs" font-family="Liberation Sans, sans-serif">1/64xCO2</text><line x1="283.0" y1="464.0" x2="310.8" y2="464.0" stroke="#5ad2ea" stroke-width="2.1"/><text x="319.4" y="469.1" font-size="13.8" textLength="64.5" lengthAdjust="spacingAndGlyphs" font-family="Liberation Sans, sans-serif">1/32xCO2</text><line x1="283.0" y1="483.2" x2="310.8" y2="483.2" stroke="#8ee6c4" stroke-width="2.1"/><text x="319.4" y="488.3" font-size="13.8" textLength="64.5" lengthAdjust="spacingAndGlyphs" font-family="Liberation Sans, sans-serif">1/16xCO2</text><line x1="283.0" y1="502.2" x2="310.8" y2="502.2" stroke="#c2ecc6" stroke-width="2.1"/><text x="319.4" y="507.3" font-size="13.8" textLength="56.2" lengthAdjust="spacingAndGlyphs" font-family="Liberation Sans, sans-serif">1/8xCO2</text><line x1="407.5" y1="464.0" x2="434.8" y2="464.0" stroke="#e8003c" stroke-width="2.1"/><text x="444.6" y="469.1" font-size="13.8" textLength="43.8" lengthAdjust="spacingAndGlyphs" font-family="Liberation Sans, sans-serif">2xCO2</text><line x1="407.5" y1="483.2" x2="434.8" y2="483.2" stroke="#808080" stroke-width="2.1"/><text x="444.6" y="488.3" font-size="13.8" textLength="45.6" lengthAdjust="spacingAndGlyphs" font-family="Liberation Sans, sans-serif">50ppm</text></svg></body></html>
